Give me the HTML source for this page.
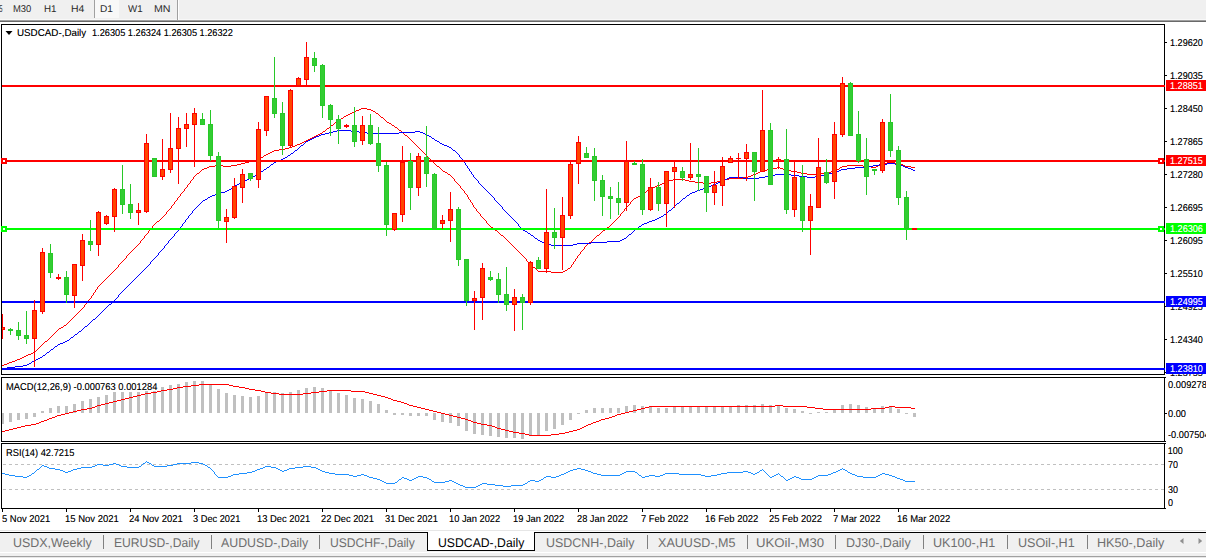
<!DOCTYPE html>
<html><head><meta charset="utf-8"><title>USDCAD Daily</title>
<style>
html,body{margin:0;padding:0;background:#fff;}
html,body{width:1206px;height:558px;overflow:hidden;}
#root{width:1206px;height:558px;overflow:hidden;position:relative;font-family:"Liberation Sans",sans-serif;background:#fff;}
.t{position:absolute;white-space:nowrap;font-family:"Liberation Sans",sans-serif;transform-origin:0 50%;text-rendering:geometricPrecision;}
.lb{position:absolute;left:1166px;width:40px;height:11px;}
#tb{position:absolute;left:0;top:0;width:1206px;height:20px;background:#f0f0f0;}
#tabs{position:absolute;left:0;top:533px;width:1206px;height:19px;background:#f0f0f0;}
svg{position:absolute;left:0;top:0;}
</style></head><body><div id="root">
<div id="tb"></div>
<div id="tabs"></div>
<svg width="1206" height="558" viewBox="0 0 1206 558" shape-rendering="crispEdges">
<rect x="0" y="19" width="1206" height="1" fill="#f8f8f8"/>
<rect x="94" y="0" width="1" height="18" fill="#a0a0a0"/>
<rect x="95" y="0" width="24" height="18" fill="#f8f8f8"/>
<rect x="177" y="0" width="1" height="20" fill="#a0a0a0"/>
<rect x="178" y="0" width="1" height="20" fill="#ffffff"/>
<rect x="0" y="20" width="1206" height="1" fill="#a0a0a0"/>
<rect x="0" y="21" width="1206" height="1" fill="#696969"/>
<rect x="1" y="24" width="1164" height="1" fill="#000"/>
<rect x="1" y="374" width="1164" height="1" fill="#000"/>
<rect x="1" y="24" width="1" height="351" fill="#000"/>
<rect x="1164" y="24" width="1" height="351" fill="#000"/>
<rect x="1" y="377" width="1164" height="1" fill="#000"/>
<rect x="1" y="441" width="1164" height="1" fill="#000"/>
<rect x="1" y="377" width="1" height="65" fill="#000"/>
<rect x="1164" y="377" width="1" height="65" fill="#000"/>
<rect x="1" y="443" width="1164" height="1" fill="#000"/>
<rect x="1" y="508" width="1164" height="1" fill="#000"/>
<rect x="1" y="443" width="1" height="66" fill="#000"/>
<rect x="1164" y="443" width="1" height="66" fill="#000"/>
<rect x="1165" y="377" width="1" height="1" fill="#000"/>
<rect x="1165" y="441" width="1" height="1" fill="#000"/>
<rect x="1165" y="443" width="1" height="1" fill="#000"/>
<rect x="1165" y="508" width="1" height="1" fill="#000"/>
<rect x="1165" y="42" width="2" height="1" fill="#000"/>
<rect x="1165" y="75" width="2" height="1" fill="#000"/>
<rect x="1165" y="108" width="2" height="1" fill="#000"/>
<rect x="1165" y="141" width="2" height="1" fill="#000"/>
<rect x="1165" y="174" width="2" height="1" fill="#000"/>
<rect x="1165" y="207" width="2" height="1" fill="#000"/>
<rect x="1165" y="240" width="2" height="1" fill="#000"/>
<rect x="1165" y="273" width="2" height="1" fill="#000"/>
<rect x="1165" y="306" width="2" height="1" fill="#000"/>
<rect x="1165" y="339" width="2" height="1" fill="#000"/>
<rect x="1165" y="372" width="2" height="1" fill="#000"/>
<rect x="1165" y="413" width="2" height="1" fill="#000"/>
<rect x="2" y="509" width="1" height="3" fill="#000"/>
<rect x="66" y="509" width="1" height="3" fill="#000"/>
<rect x="130" y="509" width="1" height="3" fill="#000"/>
<rect x="194" y="509" width="1" height="3" fill="#000"/>
<rect x="258" y="509" width="1" height="3" fill="#000"/>
<rect x="322" y="509" width="1" height="3" fill="#000"/>
<rect x="386" y="509" width="1" height="3" fill="#000"/>
<rect x="450" y="509" width="1" height="3" fill="#000"/>
<rect x="514" y="509" width="1" height="3" fill="#000"/>
<rect x="578" y="509" width="1" height="3" fill="#000"/>
<rect x="642" y="509" width="1" height="3" fill="#000"/>
<rect x="706" y="509" width="1" height="3" fill="#000"/>
<rect x="770" y="509" width="1" height="3" fill="#000"/>
<rect x="834" y="509" width="1" height="3" fill="#000"/>
<rect x="898" y="509" width="1" height="3" fill="#000"/>
<path d="M5.5 31 L12.5 31 L9 35 Z" fill="#000" shape-rendering="auto"/>
<path d="M12 361h3v1h-3zM729 178h14v1h-14zM215 165h8v1h-8zM231 165h6v1h-6zM847 165h16v1h-16zM878 165h2v1h-2zM903 165h2v1h-2zM443 171h2v1h-2zM760 171h2v1h-2zM791 171h6v1h-6zM831 171h4v1h-4zM308 139h2v1h-2zM538 271h13v1h-13zM563 271h2v1h-2zM652 187h3v1h-3zM743 177h5v1h-5zM551 272h12v1h-12zM673 179h12v1h-12zM725 179h4v1h-4zM495 230h2v1h-2zM603 230h2v1h-2zM202 169h2v1h-2zM767 169h6v1h-6zM783 169h2v1h-2zM837 169h2v1h-2zM249 161h4v1h-4zM354 111h2v1h-2zM373 111h2v1h-2zM314 136h2v1h-2zM335 122h2v1h-2zM387 122h2v1h-2zM209 166h6v1h-6zM223 166h8v1h-8zM437 166h2v1h-2zM842 166h5v1h-5zM863 166h8v1h-8zM876 166h2v1h-2zM905 166h6v1h-6zM664 182h2v1h-2zM695 182h8v1h-8zM711 182h6v1h-6zM261 157h2v1h-2zM657 185h3v1h-3zM448 174h2v1h-2zM753 174h3v1h-3zM807 174h14v1h-14zM350 113h2v1h-2zM376 113h2v1h-2zM666 181h3v1h-3zM689 181h6v1h-6zM717 181h4v1h-4zM207 167h2v1h-2zM777 167h3v1h-3zM840 167h2v1h-2zM871 167h5v1h-5zM911 167h4v1h-4zM300 143h2v1h-2zM318 134h2v1h-2zM589 242h2v1h-2zM157 221h2v1h-2zM445 172h2v1h-2zM758 172h2v1h-2zM797 172h4v1h-4zM825 172h6v1h-6zM320 133h2v1h-2zM28 354h3v1h-3zM7 363h2v1h-2zM643 193h2v1h-2zM491 227h2v1h-2zM607 227h2v1h-2zM295 145h2v1h-2zM568 268h2v1h-2zM669 180h4v1h-4zM685 180h4v1h-4zM721 180h4v1h-4zM274 150h5v1h-5zM304 141h2v1h-2zM762 170h5v1h-5zM785 170h6v1h-6zM835 170h2v1h-2zM565 270h2v1h-2zM302 142h2v1h-2zM310 138h2v1h-2zM241 163h4v1h-4zM882 163h5v1h-5zM895 163h5v1h-5zM341 118h2v1h-2zM389 123h2v1h-2zM257 159h2v1h-2zM237 164h4v1h-4zM880 164h2v1h-2zM900 164h3v1h-3zM346 115h2v1h-2zM279 149h6v1h-6zM640 195h2v1h-2zM352 112h2v1h-2zM361 108h6v1h-6zM245 162h4v1h-4zM887 162h8v1h-8zM748 176h3v1h-3zM634 198h2v1h-2zM289 147h3v1h-3zM356 110h3v1h-3zM371 110h2v1h-2zM64 325h2v1h-2zM306 140h2v1h-2zM15 360h2v1h-2zM61 327h2v1h-2zM662 183h2v1h-2zM703 183h8v1h-8zM655 186h2v1h-2zM9 362h3v1h-3zM197 173h2v1h-2zM756 173h2v1h-2zM801 173h6v1h-6zM821 173h4v1h-4zM348 114h2v1h-2zM638 196h2v1h-2zM339 119h2v1h-2zM285 148h4v1h-4zM26 355h2v1h-2zM327 128h2v1h-2zM636 197h2v1h-2zM268 153h2v1h-2zM259 158h2v1h-2zM501 235h2v1h-2zM597 235h2v1h-2zM533 267h2v1h-2zM297 144h3v1h-3zM344 116h2v1h-2zM312 137h2v1h-2zM399 130h2v1h-2zM204 168h3v1h-3zM773 168h4v1h-4zM780 168h3v1h-3zM316 135h2v1h-2zM405 135h2v1h-2zM45 341h2v1h-2zM253 160h4v1h-4zM22 357h2v1h-2zM395 127h2v1h-2zM270 152h2v1h-2zM17 359h3v1h-3zM359 109h2v1h-2zM367 109h4v1h-4zM2 365h2v1h-2zM292 146h3v1h-3zM331 125h2v1h-2zM392 125h2v1h-2zM751 175h2v1h-2zM33 352h2v1h-2zM59 328h2v1h-2zM272 151h2v1h-2zM323 131h2v1h-2zM650 188h2v1h-2zM24 356h2v1h-2zM381 117h2v1h-2zM266 154h2v1h-2zM660 184h2v1h-2zM4 364h3v1h-3zM20 358h2v1h-2zM31 353h2v1h-2zM647 190h2v1h-2zM264 155h2v1h-2zM177 198h1v2h-1zM70 320h1v1h-1zM90 298h1v1h-1zM470 200h1v2h-1zM494 229h1v1h-1zM473 205h1v2h-1zM184 189h1v2h-1zM63 326h1v1h-1zM169 209h1v1h-1zM524 257h1v1h-1zM172 205h1v1h-1zM106 278h1v1h-1zM126 256h1v2h-1zM506 239h1v1h-1zM326 129h1v1h-1zM578 255h1v1h-1zM613 222h1v1h-1zM97 287h1v2h-1zM480 214h1v2h-1zM624 209h1v2h-1zM144 236h1v2h-1zM164 215h1v1h-1zM43 343h1v1h-1zM402 132h1v1h-1zM454 179h1v2h-1zM414 143h1v1h-1zM192 179h1v1h-1zM47 340h1v1h-1zM403 133h1v1h-1zM586 245h1v1h-1zM161 218h1v1h-1zM465 193h1v1h-1zM109 275h1v1h-1zM129 253h1v1h-1zM152 226h1v2h-1zM584 247h1v2h-1zM421 150h1v1h-1zM469 199h1v1h-1zM330 126h1v1h-1zM413 142h1v1h-1zM620 214h1v2h-1zM50 337h1v1h-1zM334 123h1v1h-1zM600 233h1v1h-1zM428 157h1v1h-1zM338 120h1v1h-1zM121 262h1v1h-1zM141 240h1v1h-1zM199 172h1v1h-1zM593 239h1v1h-1zM490 226h1v1h-1zM420 149h1v1h-1zM101 283h1v1h-1zM77 313h1v1h-1zM383 118h1v1h-1zM180 194h1v2h-1zM464 191h1v2h-1zM628 205h1v1h-1zM116 268h1v1h-1zM136 246h1v1h-1zM435 164h1v1h-1zM505 238h1v1h-1zM468 197h1v2h-1zM93 293h1v2h-1zM175 201h1v1h-1zM623 211h1v1h-1zM74 316h1v1h-1zM581 251h1v1h-1zM427 156h1v1h-1zM398 129h1v1h-1zM439 167h1v1h-1zM527 261h1v1h-1zM113 271h1v1h-1zM57 330h1v1h-1zM512 245h1v1h-1zM104 280h1v1h-1zM483 218h1v1h-1zM183 191h1v1h-1zM457 183h1v1h-1zM54 333h1v1h-1zM615 220h1v1h-1zM519 252h1v1h-1zM572 264h1v1h-1zM472 203h1v2h-1zM159 220h1v1h-1zM38 348h1v1h-1zM482 217h1v1h-1zM397 128h1v1h-1zM81 309h1v1h-1zM526 259h1v2h-1zM378 114h1v1h-1zM140 241h1v2h-1zM379 115h1v1h-1zM131 251h1v1h-1zM500 234h1v1h-1zM69 321h1v1h-1zM434 163h1v1h-1zM631 201h1v1h-1zM171 206h1v2h-1zM108 276h1v1h-1zM84 305h1v2h-1zM394 126h1v1h-1zM128 254h1v1h-1zM580 252h1v2h-1zM467 195h1v2h-1zM148 231h1v2h-1zM151 228h1v1h-1zM96 289h1v1h-1zM408 137h1v1h-1zM325 130h1v1h-1zM626 207h1v1h-1zM166 212h1v2h-1zM471 202h1v1h-1zM123 260h1v1h-1zM143 238h1v1h-1zM329 127h1v1h-1zM575 259h1v2h-1zM595 237h1v1h-1zM423 152h1v1h-1zM49 338h1v1h-1zM599 234h1v1h-1zM194 176h1v1h-1zM588 243h1v1h-1zM415 144h1v1h-1zM163 216h1v1h-1zM174 202h1v2h-1zM571 265h1v2h-1zM76 314h1v1h-1zM583 249h1v1h-1zM92 295h1v1h-1zM404 134h1v1h-1zM115 269h1v1h-1zM135 247h1v1h-1zM385 120h1v1h-1zM466 194h1v1h-1zM474 207h1v1h-1zM602 231h1v1h-1zM375 112h1v1h-1zM507 240h1v1h-1zM645 192h1v1h-1zM606 228h1v1h-1zM440 168h1v1h-1zM201 170h1v1h-1zM146 234h1v1h-1zM56 331h1v1h-1zM508 241h1v1h-1zM649 189h1v1h-1zM79 311h1v1h-1zM441 169h1v1h-1zM610 225h1v1h-1zM630 202h1v2h-1zM138 244h1v1h-1zM182 192h1v1h-1zM40 346h1v1h-1zM95 290h1v2h-1zM118 265h1v2h-1zM515 248h1v1h-1zM154 224h1v1h-1zM67 323h1v1h-1zM422 151h1v1h-1zM149 230h1v1h-1zM103 281h1v1h-1zM633 199h1v1h-1zM528 262h1v1h-1zM185 188h1v1h-1zM429 158h1v1h-1zM529 263h1v1h-1zM513 246h1v1h-1zM514 247h1v1h-1zM384 119h1v1h-1zM574 261h1v1h-1zM577 256h1v2h-1zM83 307h1v1h-1zM436 165h1v1h-1zM193 177h1v2h-1zM625 208h1v1h-1zM520 253h1v1h-1zM165 214h1v1h-1zM477 211h1v1h-1zM133 249h1v1h-1zM594 238h1v1h-1zM521 254h1v1h-1zM35 351h1v1h-1zM410 139h1v1h-1zM110 274h1v1h-1zM617 218h1v1h-1zM71 319h1v1h-1zM411 140h1v1h-1zM91 296h1v2h-1zM484 219h1v1h-1zM130 252h1v1h-1zM173 204h1v1h-1zM570 267h1v1h-1zM458 184h1v1h-1zM51 336h1v1h-1zM86 303h1v1h-1zM89 299h1v1h-1zM98 286h1v1h-1zM839 168h1v1h-1zM125 258h1v1h-1zM168 210h1v1h-1zM122 261h1v1h-1zM601 232h1v1h-1zM476 209h1v2h-1zM196 174h1v1h-1zM409 138h1v1h-1zM450 175h1v1h-1zM188 184h1v1h-1zM78 312h1v1h-1zM191 180h1v1h-1zM380 116h1v1h-1zM156 222h1v1h-1zM451 176h1v1h-1zM573 262h1v2h-1zM137 245h1v1h-1zM160 219h1v1h-1zM416 145h1v1h-1zM487 223h1v1h-1zM417 146h1v1h-1zM612 223h1v1h-1zM66 324h1v1h-1zM461 188h1v1h-1zM605 229h1v1h-1zM200 171h1v1h-1zM145 235h1v1h-1zM475 208h1v1h-1zM333 124h1v1h-1zM535 268h1v1h-1zM424 153h1v1h-1zM632 200h1v1h-1zM42 344h1v1h-1zM117 267h1v1h-1zM120 263h1v1h-1zM486 221h1v2h-1zM592 240h1v1h-1zM39 347h1v1h-1zM509 242h1v1h-1zM176 200h1v1h-1zM179 196h1v1h-1zM442 170h1v1h-1zM498 232h1v1h-1zM585 246h1v1h-1zM431 160h1v1h-1zM391 124h1v1h-1zM58 329h1v1h-1zM432 161h1v1h-1zM619 216h1v1h-1zM105 279h1v1h-1zM73 317h1v1h-1zM516 249h1v1h-1zM386 121h1v1h-1zM187 185h1v2h-1zM132 250h1v1h-1zM337 121h1v1h-1zM616 219h1v1h-1zM523 256h1v1h-1zM322 132h1v1h-1zM497 231h1v1h-1zM430 159h1v1h-1zM85 304h1v1h-1zM627 206h1v1h-1zM530 264h1v1h-1zM460 186h1v2h-1zM596 236h1v1h-1zM37 349h1v1h-1zM531 265h1v1h-1zM112 272h1v1h-1zM190 181h1v2h-1zM80 310h1v1h-1zM622 212h1v1h-1zM139 243h1v1h-1zM478 212h1v1h-1zM53 334h1v1h-1zM88 300h1v2h-1zM479 213h1v1h-1zM100 284h1v1h-1zM68 322h1v1h-1zM452 177h1v1h-1zM412 141h1v1h-1zM170 208h1v1h-1zM485 220h1v1h-1zM124 259h1v1h-1zM642 194h1v1h-1zM127 255h1v1h-1zM576 258h1v1h-1zM453 178h1v1h-1zM147 233h1v1h-1zM611 224h1v1h-1zM459 185h1v1h-1zM646 191h1v1h-1zM195 175h1v1h-1zM44 342h1v1h-1zM419 148h1v1h-1zM522 255h1v1h-1zM493 228h1v1h-1zM587 244h1v1h-1zM504 237h1v1h-1zM537 270h1v1h-1zM107 277h1v1h-1zM579 254h1v1h-1zM614 221h1v1h-1zM582 250h1v1h-1zM511 244h1v1h-1zM401 131h1v1h-1zM167 211h1v1h-1zM343 117h1v1h-1zM48 339h1v1h-1zM503 236h1v1h-1zM142 239h1v1h-1zM536 269h1v1h-1zM162 217h1v1h-1zM41 345h1v1h-1zM119 264h1v1h-1zM591 241h1v1h-1zM263 156h1v1h-1zM629 204h1v1h-1zM155 223h1v1h-1zM178 197h1v1h-1zM481 216h1v1h-1zM94 292h1v1h-1zM114 270h1v1h-1zM426 155h1v1h-1zM75 315h1v1h-1zM150 229h1v1h-1zM153 225h1v1h-1zM488 224h1v1h-1zM72 318h1v1h-1zM418 147h1v1h-1zM499 233h1v1h-1zM134 248h1v1h-1zM456 182h1v1h-1zM489 225h1v1h-1zM111 273h1v1h-1zM186 187h1v1h-1zM189 183h1v1h-1zM532 266h1v1h-1zM618 217h1v1h-1zM55 332h1v1h-1zM462 189h1v1h-1zM433 162h1v1h-1zM102 282h1v1h-1zM609 226h1v1h-1zM463 190h1v1h-1zM447 173h1v1h-1zM181 193h1v1h-1zM425 154h1v1h-1zM518 251h1v1h-1zM407 136h1v1h-1zM52 335h1v1h-1zM87 302h1v1h-1zM99 285h1v1h-1zM510 243h1v1h-1zM82 308h1v1h-1zM36 350h1v1h-1zM525 258h1v1h-1zM455 181h1v1h-1zM621 213h1v1h-1zM567 269h1v1h-1zM517 250h1v1h-1z" fill="#ff0000"/>
<path d="M528 233h2v1h-2zM256 174h2v1h-2zM775 174h16v1h-16zM825 174h4v1h-4zM65 341h2v1h-2zM261 171h2v1h-2zM836 171h3v1h-3zM221 192h4v1h-4zM692 192h3v1h-3zM677 203h2v1h-2zM251 177h2v1h-2zM729 177h14v1h-14zM759 177h6v1h-6zM807 177h8v1h-8zM887 163h8v1h-8zM210 196h2v1h-2zM329 132h4v1h-4zM359 132h8v1h-8zM399 132h16v1h-16zM420 132h3v1h-3zM253 176h2v1h-2zM765 176h4v1h-4zM799 176h8v1h-8zM815 176h6v1h-6zM247 179h2v1h-2zM724 179h3v1h-3zM659 217h2v1h-2zM325 133h4v1h-4zM367 133h32v1h-32zM423 133h2v1h-2zM542 242h2v1h-2zM591 242h16v1h-16zM551 245h22v1h-22zM271 164h2v1h-2zM879 164h8v1h-8zM895 164h5v1h-5zM291 153h2v1h-2zM215 194h2v1h-2zM288 155h2v1h-2zM259 172h2v1h-2zM833 172h3v1h-3zM225 191h2v1h-2zM695 191h2v1h-2zM869 166h4v1h-4zM903 166h2v1h-2zM708 186h3v1h-3zM295 150h2v1h-2zM453 150h2v1h-2zM544 243h2v1h-2zM577 243h14v1h-14zM337 130h14v1h-14zM769 175h6v1h-6zM791 175h8v1h-8zM821 175h4v1h-4zM23 365h4v1h-4zM314 137h2v1h-2zM32 361h2v1h-2zM312 138h2v1h-2zM432 138h2v1h-2zM839 170h2v1h-2zM913 170h2v1h-2zM540 241h2v1h-2zM607 241h13v1h-13zM546 244h5v1h-5zM573 244h4v1h-4zM333 131h4v1h-4zM351 131h8v1h-8zM415 131h5v1h-5zM208 197h2v1h-2zM319 135h2v1h-2zM427 135h2v1h-2zM29 363h2v1h-2zM60 343h3v1h-3zM644 223h3v1h-3zM249 178h2v1h-2zM727 178h2v1h-2zM743 178h16v1h-16zM873 165h6v1h-6zM900 165h3v1h-3zM85 326h2v1h-2zM316 136h3v1h-3zM429 136h2v1h-2zM622 239h2v1h-2zM242 181h2v1h-2zM720 181h2v1h-2zM655 219h2v1h-2zM279 160h2v1h-2zM267 167h2v1h-2zM855 167h14v1h-14zM905 167h3v1h-3zM276 161h3v1h-3zM15 366h8v1h-8zM449 147h2v1h-2zM321 134h4v1h-4zM425 134h2v1h-2zM7 367h8v1h-8zM310 139h2v1h-2zM442 144h2v1h-2zM244 180h3v1h-3zM722 180h2v1h-2zM38 358h2v1h-2zM703 188h2v1h-2zM264 169h2v1h-2zM841 169h6v1h-6zM911 169h2v1h-2zM538 240h2v1h-2zM620 240h2v1h-2zM716 183h2v1h-2zM523 230h2v1h-2zM283 158h2v1h-2zM75 334h2v1h-2zM229 189h2v1h-2zM700 189h3v1h-3zM281 159h2v1h-2zM212 195h3v1h-3zM687 195h2v1h-2zM657 218h2v1h-2zM274 162h2v1h-2zM2 368h5v1h-5zM535 238h2v1h-2zM624 238h2v1h-2zM847 168h8v1h-8zM908 168h3v1h-3zM669 210h2v1h-2zM79 331h2v1h-2zM829 173h4v1h-4zM652 220h3v1h-3zM217 193h4v1h-4zM690 193h2v1h-2zM661 216h2v1h-2zM34 360h2v1h-2zM285 157h2v1h-2zM232 187h2v1h-2zM705 187h3v1h-3zM642 224h2v1h-2zM51 349h2v1h-2zM55 346h2v1h-2zM205 199h2v1h-2zM683 198h2v1h-2zM308 140h2v1h-2zM435 140h2v1h-2zM629 234h2v1h-2zM531 235h2v1h-2zM525 231h2v1h-2zM240 182h2v1h-2zM718 182h2v1h-2zM40 357h2v1h-2zM649 221h3v1h-3zM227 190h2v1h-2zM697 190h3v1h-3zM301 145h2v1h-2zM444 145h3v1h-3zM306 141h2v1h-2zM437 141h2v1h-2zM664 214h2v1h-2zM237 184h2v1h-2zM713 184h3v1h-3zM235 185h2v1h-2zM711 185h2v1h-2zM635 229h2v1h-2zM43 355h2v1h-2zM67 340h2v1h-2zM47 352h2v1h-2zM203 200h2v1h-2zM58 344h2v1h-2zM93 319h2v1h-2zM440 143h2v1h-2zM647 222h2v1h-2zM109 304h2v1h-2zM447 146h2v1h-2zM27 364h2v1h-2zM36 359h2v1h-2zM639 226h2v1h-2zM71 337h2v1h-2zM63 342h2v1h-2zM146 267h1v1h-1zM270 165h1v1h-1zM168 241h1v2h-1zM494 198h1v2h-1zM679 202h1v1h-1zM458 154h1v1h-1zM193 210h1v1h-1zM136 277h1v1h-1zM105 308h1v1h-1zM668 211h1v1h-1zM467 166h1v2h-1zM144 269h1v1h-1zM143 270h1v1h-1zM118 295h1v2h-1zM164 246h1v2h-1zM273 163h1v1h-1zM145 268h1v1h-1zM70 338h1v1h-1zM472 174h1v1h-1zM103 310h1v1h-1zM666 213h1v1h-1zM182 224h1v2h-1zM671 209h1v1h-1zM83 328h1v1h-1zM672 208h1v1h-1zM530 234h1v1h-1zM506 212h1v1h-1zM192 211h1v2h-1zM290 154h1v1h-1zM178 230h1v1h-1zM459 155h1v2h-1zM179 228h1v2h-1zM481 185h1v1h-1zM507 213h1v1h-1zM188 216h1v2h-1zM133 280h1v1h-1zM134 279h1v1h-1zM455 151h1v1h-1zM174 234h1v2h-1zM294 151h1v1h-1zM177 231h1v1h-1zM503 209h1v1h-1zM124 289h1v1h-1zM131 282h1v1h-1zM132 281h1v1h-1zM631 233h1v1h-1zM518 224h1v2h-1zM150 262h1v2h-1zM158 253h1v2h-1zM173 236h1v1h-1zM293 152h1v1h-1zM519 226h1v1h-1zM498 203h1v1h-1zM122 291h1v1h-1zM99 314h1v1h-1zM469 169h1v2h-1zM156 256h1v1h-1zM478 181h1v2h-1zM31 362h1v1h-1zM504 210h1v1h-1zM483 187h1v1h-1zM685 197h1v1h-1zM97 316h1v1h-1zM470 171h1v1h-1zM121 292h1v1h-1zM42 356h1v1h-1zM479 183h1v1h-1zM527 232h1v1h-1zM473 175h1v2h-1zM505 211h1v1h-1zM239 183h1v1h-1zM520 227h1v1h-1zM499 204h1v1h-1zM689 194h1v1h-1zM185 220h1v2h-1zM117 297h1v1h-1zM119 294h1v1h-1zM120 293h1v1h-1zM69 339h1v1h-1zM74 335h1v1h-1zM495 200h1v1h-1zM201 202h1v1h-1zM521 228h1v1h-1zM181 226h1v1h-1zM462 159h1v2h-1zM116 298h1v1h-1zM471 172h1v2h-1zM89 323h1v1h-1zM496 201h1v1h-1zM199 204h1v1h-1zM511 217h1v1h-1zM480 184h1v1h-1zM490 194h1v1h-1zM73 336h1v1h-1zM163 248h1v1h-1zM165 245h1v1h-1zM142 271h1v1h-1zM162 249h1v1h-1zM452 149h1v1h-1zM263 170h1v1h-1zM463 161h1v1h-1zM115 299h1v1h-1zM114 300h1v1h-1zM486 190h1v1h-1zM197 206h1v1h-1zM140 273h1v1h-1zM512 218h1v1h-1zM198 205h1v1h-1zM475 178h1v1h-1zM161 250h1v1h-1zM299 147h1v1h-1zM482 186h1v1h-1zM300 146h1v1h-1zM305 142h1v1h-1zM508 214h1v1h-1zM100 313h1v1h-1zM502 207h1v2h-1zM139 274h1v1h-1zM107 306h1v1h-1zM108 305h1v1h-1zM497 202h1v1h-1zM157 255h1v1h-1zM160 251h1v1h-1zM298 148h1v1h-1zM303 144h1v1h-1zM477 180h1v1h-1zM464 162h1v1h-1zM175 233h1v1h-1zM98 315h1v1h-1zM487 191h1v1h-1zM106 307h1v1h-1zM513 219h1v1h-1zM465 163h1v2h-1zM130 283h1v1h-1zM434 139h1v1h-1zM231 188h1v1h-1zM171 238h1v1h-1zM509 215h1v1h-1zM488 192h1v1h-1zM91 321h1v1h-1zM46 353h1v1h-1zM92 320h1v1h-1zM128 285h1v1h-1zM167 243h1v1h-1zM484 188h1v1h-1zM170 239h1v1h-1zM169 240h1v1h-1zM533 236h1v1h-1zM510 216h1v1h-1zM515 221h1v1h-1zM126 287h1v1h-1zM451 148h1v1h-1zM127 286h1v1h-1zM200 203h1v1h-1zM50 350h1v1h-1zM474 177h1v1h-1zM187 218h1v1h-1zM628 235h1v1h-1zM633 231h1v1h-1zM166 244h1v1h-1zM634 230h1v1h-1zM153 259h1v1h-1zM500 205h1v1h-1zM534 237h1v1h-1zM183 223h1v1h-1zM141 272h1v1h-1zM184 222h1v1h-1zM49 351h1v1h-1zM78 332h1v1h-1zM461 158h1v1h-1zM151 261h1v1h-1zM632 232h1v1h-1zM485 189h1v1h-1zM501 206h1v1h-1zM522 229h1v1h-1zM516 222h1v1h-1zM90 322h1v1h-1zM149 264h1v1h-1zM627 236h1v1h-1zM682 199h1v1h-1zM180 227h1v1h-1zM255 175h1v1h-1zM147 266h1v1h-1zM491 195h1v1h-1zM82 329h1v1h-1zM81 330h1v1h-1zM138 275h1v1h-1zM517 223h1v1h-1zM304 143h1v1h-1zM266 168h1v1h-1zM439 142h1v1h-1zM176 232h1v1h-1zM686 196h1v1h-1zM258 173h1v1h-1zM112 302h1v1h-1zM675 205h1v1h-1zM476 179h1v1h-1zM113 301h1v1h-1zM196 207h1v1h-1zM159 252h1v1h-1zM431 137h1v1h-1zM297 149h1v1h-1zM673 207h1v1h-1zM111 303h1v1h-1zM674 206h1v1h-1zM129 284h1v1h-1zM492 196h1v1h-1zM194 209h1v1h-1zM663 215h1v1h-1zM155 257h1v1h-1zM137 276h1v1h-1zM269 166h1v1h-1zM468 168h1v1h-1zM514 220h1v1h-1zM287 156h1v1h-1zM493 197h1v1h-1zM96 317h1v1h-1zM190 214h1v1h-1zM191 213h1v1h-1zM135 278h1v1h-1zM667 212h1v1h-1zM154 258h1v1h-1zM104 309h1v1h-1zM489 193h1v1h-1zM460 157h1v1h-1zM45 354h1v1h-1zM186 219h1v1h-1zM95 318h1v1h-1zM189 215h1v1h-1zM102 311h1v1h-1zM77 333h1v1h-1zM638 227h1v1h-1zM537 239h1v1h-1zM84 327h1v1h-1zM152 260h1v1h-1zM234 186h1v1h-1zM148 265h1v1h-1zM54 347h1v1h-1zM53 348h1v1h-1zM456 152h1v1h-1zM101 312h1v1h-1zM637 228h1v1h-1zM88 324h1v1h-1zM125 288h1v1h-1zM626 237h1v1h-1zM676 204h1v1h-1zM207 198h1v1h-1zM681 200h1v1h-1zM57 345h1v1h-1zM87 325h1v1h-1zM123 290h1v1h-1zM641 225h1v1h-1zM172 237h1v1h-1zM680 201h1v1h-1zM457 153h1v1h-1zM195 208h1v1h-1zM466 165h1v1h-1zM202 201h1v1h-1z" fill="#0000ff"/>
<rect x="2" y="85" width="1163" height="2" fill="#ff0000"/>
<rect x="2" y="160" width="1163" height="2" fill="#ff0000"/>
<rect x="2" y="228" width="1163" height="2" fill="#00ff00"/>
<rect x="2" y="301" width="1163" height="2" fill="#0000ff"/>
<rect x="2" y="368" width="1163" height="2" fill="#0000ff"/>
<rect x="2" y="314" width="1" height="25" fill="#ff0000"/>
<rect x="2" y="327" width="3" height="3" fill="#ff0000"/>
<rect x="2" y="328" width="2" height="1" fill="#ff4500"/>
<rect x="10" y="328" width="1" height="7" fill="#28c828"/>
<rect x="8" y="329" width="5" height="2" fill="#28c828"/>
<rect x="18" y="322" width="1" height="18" fill="#28c828"/>
<rect x="16" y="330" width="5" height="6" fill="#28c828"/>
<rect x="17" y="331" width="3" height="4" fill="#32cd32"/>
<rect x="26" y="311" width="1" height="33" fill="#28c828"/>
<rect x="24" y="335" width="5" height="4" fill="#28c828"/>
<rect x="25" y="336" width="3" height="2" fill="#32cd32"/>
<rect x="34" y="300" width="1" height="67" fill="#ff0000"/>
<rect x="32" y="310" width="5" height="29" fill="#ff0000"/>
<rect x="33" y="311" width="3" height="27" fill="#ff4500"/>
<rect x="42" y="248" width="1" height="66" fill="#ff0000"/>
<rect x="40" y="252" width="5" height="60" fill="#ff0000"/>
<rect x="41" y="253" width="3" height="58" fill="#ff4500"/>
<rect x="50" y="244" width="1" height="34" fill="#28c828"/>
<rect x="48" y="253" width="5" height="20" fill="#28c828"/>
<rect x="49" y="254" width="3" height="18" fill="#32cd32"/>
<rect x="58" y="274" width="1" height="6" fill="#ff0000"/>
<rect x="56" y="277" width="5" height="2" fill="#ff0000"/>
<rect x="66" y="271" width="1" height="32" fill="#28c828"/>
<rect x="64" y="277" width="5" height="18" fill="#28c828"/>
<rect x="65" y="278" width="3" height="16" fill="#32cd32"/>
<rect x="74" y="264" width="1" height="44" fill="#ff0000"/>
<rect x="72" y="264" width="5" height="32" fill="#ff0000"/>
<rect x="73" y="265" width="3" height="30" fill="#ff4500"/>
<rect x="82" y="234" width="1" height="47" fill="#ff0000"/>
<rect x="80" y="240" width="5" height="26" fill="#ff0000"/>
<rect x="81" y="241" width="3" height="24" fill="#ff4500"/>
<rect x="90" y="220" width="1" height="31" fill="#28c828"/>
<rect x="88" y="241" width="5" height="4" fill="#28c828"/>
<rect x="89" y="242" width="3" height="2" fill="#32cd32"/>
<rect x="98" y="211" width="1" height="45" fill="#ff0000"/>
<rect x="96" y="212" width="5" height="33" fill="#ff0000"/>
<rect x="97" y="213" width="3" height="31" fill="#ff4500"/>
<rect x="106" y="215" width="1" height="10" fill="#ff0000"/>
<rect x="104" y="216" width="5" height="8" fill="#ff0000"/>
<rect x="105" y="217" width="3" height="6" fill="#ff4500"/>
<rect x="114" y="188" width="1" height="44" fill="#ff0000"/>
<rect x="112" y="189" width="5" height="28" fill="#ff0000"/>
<rect x="113" y="190" width="3" height="26" fill="#ff4500"/>
<rect x="122" y="165" width="1" height="49" fill="#28c828"/>
<rect x="120" y="189" width="5" height="16" fill="#28c828"/>
<rect x="121" y="190" width="3" height="14" fill="#32cd32"/>
<rect x="130" y="184" width="1" height="35" fill="#28c828"/>
<rect x="128" y="204" width="5" height="9" fill="#28c828"/>
<rect x="129" y="205" width="3" height="7" fill="#32cd32"/>
<rect x="138" y="203" width="1" height="22" fill="#ff0000"/>
<rect x="136" y="210" width="5" height="3" fill="#ff0000"/>
<rect x="137" y="211" width="3" height="1" fill="#ff4500"/>
<rect x="146" y="134" width="1" height="79" fill="#ff0000"/>
<rect x="144" y="143" width="5" height="69" fill="#ff0000"/>
<rect x="145" y="144" width="3" height="67" fill="#ff4500"/>
<rect x="154" y="158" width="1" height="19" fill="#28c828"/>
<rect x="152" y="158" width="5" height="19" fill="#28c828"/>
<rect x="153" y="159" width="3" height="17" fill="#32cd32"/>
<rect x="162" y="139" width="1" height="41" fill="#ff0000"/>
<rect x="160" y="169" width="5" height="8" fill="#ff0000"/>
<rect x="161" y="170" width="3" height="6" fill="#ff4500"/>
<rect x="170" y="113" width="1" height="60" fill="#ff0000"/>
<rect x="168" y="148" width="5" height="22" fill="#ff0000"/>
<rect x="169" y="149" width="3" height="20" fill="#ff4500"/>
<rect x="178" y="117" width="1" height="67" fill="#ff0000"/>
<rect x="176" y="128" width="5" height="21" fill="#ff0000"/>
<rect x="177" y="129" width="3" height="19" fill="#ff4500"/>
<rect x="186" y="113" width="1" height="34" fill="#ff0000"/>
<rect x="184" y="124" width="5" height="5" fill="#ff0000"/>
<rect x="185" y="125" width="3" height="3" fill="#ff4500"/>
<rect x="194" y="108" width="1" height="59" fill="#ff0000"/>
<rect x="192" y="113" width="5" height="12" fill="#ff0000"/>
<rect x="193" y="114" width="3" height="10" fill="#ff4500"/>
<rect x="202" y="113" width="1" height="12" fill="#28c828"/>
<rect x="200" y="119" width="5" height="6" fill="#28c828"/>
<rect x="201" y="120" width="3" height="4" fill="#32cd32"/>
<rect x="210" y="110" width="1" height="51" fill="#28c828"/>
<rect x="208" y="124" width="5" height="32" fill="#28c828"/>
<rect x="209" y="125" width="3" height="30" fill="#32cd32"/>
<rect x="218" y="152" width="1" height="77" fill="#28c828"/>
<rect x="216" y="156" width="5" height="65" fill="#28c828"/>
<rect x="217" y="157" width="3" height="63" fill="#32cd32"/>
<rect x="226" y="209" width="1" height="34" fill="#ff0000"/>
<rect x="224" y="217" width="5" height="5" fill="#ff0000"/>
<rect x="225" y="218" width="3" height="3" fill="#ff4500"/>
<rect x="234" y="178" width="1" height="41" fill="#ff0000"/>
<rect x="232" y="186" width="5" height="32" fill="#ff0000"/>
<rect x="233" y="187" width="3" height="30" fill="#ff4500"/>
<rect x="242" y="169" width="1" height="34" fill="#ff0000"/>
<rect x="240" y="174" width="5" height="14" fill="#ff0000"/>
<rect x="241" y="175" width="3" height="12" fill="#ff4500"/>
<rect x="250" y="173" width="1" height="8" fill="#28c828"/>
<rect x="248" y="173" width="5" height="6" fill="#28c828"/>
<rect x="249" y="174" width="3" height="4" fill="#32cd32"/>
<rect x="258" y="122" width="1" height="66" fill="#ff0000"/>
<rect x="256" y="129" width="5" height="51" fill="#ff0000"/>
<rect x="257" y="130" width="3" height="49" fill="#ff4500"/>
<rect x="266" y="96" width="1" height="40" fill="#ff0000"/>
<rect x="264" y="96" width="5" height="35" fill="#ff0000"/>
<rect x="265" y="97" width="3" height="33" fill="#ff4500"/>
<rect x="274" y="57" width="1" height="61" fill="#28c828"/>
<rect x="272" y="98" width="5" height="16" fill="#28c828"/>
<rect x="273" y="99" width="3" height="14" fill="#32cd32"/>
<rect x="282" y="102" width="1" height="53" fill="#28c828"/>
<rect x="280" y="113" width="5" height="33" fill="#28c828"/>
<rect x="281" y="114" width="3" height="31" fill="#32cd32"/>
<rect x="290" y="89" width="1" height="58" fill="#ff0000"/>
<rect x="288" y="90" width="5" height="56" fill="#ff0000"/>
<rect x="289" y="91" width="3" height="54" fill="#ff4500"/>
<rect x="298" y="77" width="1" height="9" fill="#ff0000"/>
<rect x="296" y="78" width="5" height="8" fill="#ff0000"/>
<rect x="297" y="79" width="3" height="6" fill="#ff4500"/>
<rect x="306" y="42" width="1" height="43" fill="#ff0000"/>
<rect x="304" y="57" width="5" height="23" fill="#ff0000"/>
<rect x="305" y="58" width="3" height="21" fill="#ff4500"/>
<rect x="314" y="52" width="1" height="20" fill="#28c828"/>
<rect x="312" y="58" width="5" height="8" fill="#28c828"/>
<rect x="313" y="59" width="3" height="6" fill="#32cd32"/>
<rect x="322" y="64" width="1" height="54" fill="#28c828"/>
<rect x="320" y="65" width="5" height="41" fill="#28c828"/>
<rect x="321" y="66" width="3" height="39" fill="#32cd32"/>
<rect x="330" y="104" width="1" height="32" fill="#28c828"/>
<rect x="328" y="105" width="5" height="15" fill="#28c828"/>
<rect x="329" y="106" width="3" height="13" fill="#32cd32"/>
<rect x="338" y="115" width="1" height="29" fill="#28c828"/>
<rect x="336" y="119" width="5" height="10" fill="#28c828"/>
<rect x="337" y="120" width="3" height="8" fill="#32cd32"/>
<rect x="346" y="124" width="1" height="4" fill="#ff0000"/>
<rect x="344" y="125" width="5" height="2" fill="#ff0000"/>
<rect x="354" y="107" width="1" height="40" fill="#28c828"/>
<rect x="352" y="125" width="5" height="17" fill="#28c828"/>
<rect x="353" y="126" width="3" height="15" fill="#32cd32"/>
<rect x="362" y="116" width="1" height="29" fill="#ff0000"/>
<rect x="360" y="125" width="5" height="16" fill="#ff0000"/>
<rect x="361" y="126" width="3" height="14" fill="#ff4500"/>
<rect x="370" y="114" width="1" height="31" fill="#28c828"/>
<rect x="368" y="125" width="5" height="19" fill="#28c828"/>
<rect x="369" y="126" width="3" height="17" fill="#32cd32"/>
<rect x="378" y="127" width="1" height="45" fill="#28c828"/>
<rect x="376" y="143" width="5" height="23" fill="#28c828"/>
<rect x="377" y="144" width="3" height="21" fill="#32cd32"/>
<rect x="386" y="162" width="1" height="74" fill="#28c828"/>
<rect x="384" y="165" width="5" height="60" fill="#28c828"/>
<rect x="385" y="166" width="3" height="58" fill="#32cd32"/>
<rect x="394" y="213" width="1" height="18" fill="#ff0000"/>
<rect x="392" y="213" width="5" height="17" fill="#ff0000"/>
<rect x="393" y="214" width="3" height="15" fill="#ff4500"/>
<rect x="402" y="146" width="1" height="76" fill="#ff0000"/>
<rect x="400" y="162" width="5" height="53" fill="#ff0000"/>
<rect x="401" y="163" width="3" height="51" fill="#ff4500"/>
<rect x="410" y="153" width="1" height="57" fill="#28c828"/>
<rect x="408" y="161" width="5" height="27" fill="#28c828"/>
<rect x="409" y="162" width="3" height="25" fill="#32cd32"/>
<rect x="418" y="153" width="1" height="43" fill="#ff0000"/>
<rect x="416" y="156" width="5" height="32" fill="#ff0000"/>
<rect x="417" y="157" width="3" height="30" fill="#ff4500"/>
<rect x="426" y="126" width="1" height="61" fill="#28c828"/>
<rect x="424" y="157" width="5" height="17" fill="#28c828"/>
<rect x="425" y="158" width="3" height="15" fill="#32cd32"/>
<rect x="434" y="173" width="1" height="56" fill="#28c828"/>
<rect x="432" y="174" width="5" height="55" fill="#28c828"/>
<rect x="433" y="175" width="3" height="53" fill="#32cd32"/>
<rect x="442" y="215" width="1" height="14" fill="#ff0000"/>
<rect x="440" y="220" width="5" height="4" fill="#ff0000"/>
<rect x="441" y="221" width="3" height="2" fill="#ff4500"/>
<rect x="450" y="192" width="1" height="50" fill="#ff0000"/>
<rect x="448" y="209" width="5" height="12" fill="#ff0000"/>
<rect x="449" y="210" width="3" height="10" fill="#ff4500"/>
<rect x="458" y="207" width="1" height="59" fill="#28c828"/>
<rect x="456" y="209" width="5" height="51" fill="#28c828"/>
<rect x="457" y="210" width="3" height="49" fill="#32cd32"/>
<rect x="466" y="259" width="1" height="47" fill="#28c828"/>
<rect x="464" y="259" width="5" height="42" fill="#28c828"/>
<rect x="465" y="260" width="3" height="40" fill="#32cd32"/>
<rect x="474" y="291" width="1" height="39" fill="#ff0000"/>
<rect x="472" y="298" width="5" height="3" fill="#ff0000"/>
<rect x="473" y="299" width="3" height="1" fill="#ff4500"/>
<rect x="482" y="263" width="1" height="57" fill="#ff0000"/>
<rect x="480" y="268" width="5" height="30" fill="#ff0000"/>
<rect x="481" y="269" width="3" height="28" fill="#ff4500"/>
<rect x="490" y="271" width="1" height="10" fill="#28c828"/>
<rect x="488" y="277" width="5" height="3" fill="#28c828"/>
<rect x="489" y="278" width="3" height="1" fill="#32cd32"/>
<rect x="498" y="273" width="1" height="30" fill="#28c828"/>
<rect x="496" y="279" width="5" height="16" fill="#28c828"/>
<rect x="497" y="280" width="3" height="14" fill="#32cd32"/>
<rect x="506" y="267" width="1" height="44" fill="#28c828"/>
<rect x="504" y="294" width="5" height="11" fill="#28c828"/>
<rect x="505" y="295" width="3" height="9" fill="#32cd32"/>
<rect x="514" y="289" width="1" height="42" fill="#ff0000"/>
<rect x="512" y="297" width="5" height="8" fill="#ff0000"/>
<rect x="513" y="298" width="3" height="6" fill="#ff4500"/>
<rect x="522" y="294" width="1" height="36" fill="#28c828"/>
<rect x="520" y="297" width="5" height="6" fill="#28c828"/>
<rect x="521" y="298" width="3" height="4" fill="#32cd32"/>
<rect x="530" y="261" width="1" height="44" fill="#ff0000"/>
<rect x="528" y="262" width="5" height="41" fill="#ff0000"/>
<rect x="529" y="263" width="3" height="39" fill="#ff4500"/>
<rect x="538" y="257" width="1" height="12" fill="#28c828"/>
<rect x="536" y="260" width="5" height="9" fill="#28c828"/>
<rect x="537" y="261" width="3" height="7" fill="#32cd32"/>
<rect x="546" y="189" width="1" height="84" fill="#ff0000"/>
<rect x="544" y="232" width="5" height="37" fill="#ff0000"/>
<rect x="545" y="233" width="3" height="35" fill="#ff4500"/>
<rect x="554" y="208" width="1" height="41" fill="#28c828"/>
<rect x="552" y="232" width="5" height="6" fill="#28c828"/>
<rect x="553" y="233" width="3" height="4" fill="#32cd32"/>
<rect x="562" y="197" width="1" height="73" fill="#ff0000"/>
<rect x="560" y="215" width="5" height="23" fill="#ff0000"/>
<rect x="561" y="216" width="3" height="21" fill="#ff4500"/>
<rect x="570" y="162" width="1" height="57" fill="#ff0000"/>
<rect x="568" y="164" width="5" height="52" fill="#ff0000"/>
<rect x="569" y="165" width="3" height="50" fill="#ff4500"/>
<rect x="578" y="136" width="1" height="48" fill="#ff0000"/>
<rect x="576" y="142" width="5" height="22" fill="#ff0000"/>
<rect x="577" y="143" width="3" height="20" fill="#ff4500"/>
<rect x="586" y="147" width="1" height="11" fill="#28c828"/>
<rect x="584" y="153" width="5" height="5" fill="#28c828"/>
<rect x="585" y="154" width="3" height="3" fill="#32cd32"/>
<rect x="594" y="148" width="1" height="53" fill="#28c828"/>
<rect x="592" y="156" width="5" height="25" fill="#28c828"/>
<rect x="593" y="157" width="3" height="23" fill="#32cd32"/>
<rect x="602" y="175" width="1" height="41" fill="#28c828"/>
<rect x="600" y="180" width="5" height="17" fill="#28c828"/>
<rect x="601" y="181" width="3" height="15" fill="#32cd32"/>
<rect x="610" y="187" width="1" height="32" fill="#28c828"/>
<rect x="608" y="196" width="5" height="3" fill="#28c828"/>
<rect x="609" y="197" width="3" height="1" fill="#32cd32"/>
<rect x="618" y="182" width="1" height="33" fill="#28c828"/>
<rect x="616" y="198" width="5" height="5" fill="#28c828"/>
<rect x="617" y="199" width="3" height="3" fill="#32cd32"/>
<rect x="626" y="141" width="1" height="70" fill="#ff0000"/>
<rect x="624" y="161" width="5" height="42" fill="#ff0000"/>
<rect x="625" y="162" width="3" height="40" fill="#ff4500"/>
<rect x="634" y="161" width="1" height="4" fill="#28c828"/>
<rect x="632" y="163" width="5" height="2" fill="#28c828"/>
<rect x="642" y="159" width="1" height="56" fill="#28c828"/>
<rect x="640" y="164" width="5" height="46" fill="#28c828"/>
<rect x="641" y="165" width="3" height="44" fill="#32cd32"/>
<rect x="650" y="178" width="1" height="33" fill="#ff0000"/>
<rect x="648" y="187" width="5" height="23" fill="#ff0000"/>
<rect x="649" y="188" width="3" height="21" fill="#ff4500"/>
<rect x="658" y="182" width="1" height="29" fill="#28c828"/>
<rect x="656" y="187" width="5" height="17" fill="#28c828"/>
<rect x="657" y="188" width="3" height="15" fill="#32cd32"/>
<rect x="666" y="171" width="1" height="56" fill="#ff0000"/>
<rect x="664" y="171" width="5" height="33" fill="#ff0000"/>
<rect x="665" y="172" width="3" height="31" fill="#ff4500"/>
<rect x="674" y="161" width="1" height="47" fill="#ff0000"/>
<rect x="672" y="167" width="5" height="5" fill="#ff0000"/>
<rect x="673" y="168" width="3" height="3" fill="#ff4500"/>
<rect x="682" y="167" width="1" height="14" fill="#28c828"/>
<rect x="680" y="171" width="5" height="7" fill="#28c828"/>
<rect x="681" y="172" width="3" height="5" fill="#32cd32"/>
<rect x="690" y="143" width="1" height="37" fill="#ff0000"/>
<rect x="688" y="174" width="5" height="4" fill="#ff0000"/>
<rect x="689" y="175" width="3" height="2" fill="#ff4500"/>
<rect x="698" y="148" width="1" height="43" fill="#28c828"/>
<rect x="696" y="174" width="5" height="3" fill="#28c828"/>
<rect x="697" y="175" width="3" height="1" fill="#32cd32"/>
<rect x="706" y="176" width="1" height="36" fill="#28c828"/>
<rect x="704" y="176" width="5" height="17" fill="#28c828"/>
<rect x="705" y="177" width="3" height="15" fill="#32cd32"/>
<rect x="714" y="171" width="1" height="34" fill="#ff0000"/>
<rect x="712" y="185" width="5" height="8" fill="#ff0000"/>
<rect x="713" y="186" width="3" height="6" fill="#ff4500"/>
<rect x="722" y="157" width="1" height="49" fill="#ff0000"/>
<rect x="720" y="166" width="5" height="20" fill="#ff0000"/>
<rect x="721" y="167" width="3" height="18" fill="#ff4500"/>
<rect x="730" y="156" width="1" height="7" fill="#ff0000"/>
<rect x="728" y="158" width="5" height="5" fill="#ff0000"/>
<rect x="729" y="159" width="3" height="3" fill="#ff4500"/>
<rect x="738" y="153" width="1" height="26" fill="#ff0000"/>
<rect x="736" y="158" width="5" height="1" fill="#ff0000"/>
<rect x="746" y="144" width="1" height="37" fill="#ff0000"/>
<rect x="744" y="152" width="5" height="7" fill="#ff0000"/>
<rect x="745" y="153" width="3" height="5" fill="#ff4500"/>
<rect x="754" y="152" width="1" height="49" fill="#28c828"/>
<rect x="752" y="152" width="5" height="20" fill="#28c828"/>
<rect x="753" y="153" width="3" height="18" fill="#32cd32"/>
<rect x="762" y="90" width="1" height="82" fill="#ff0000"/>
<rect x="760" y="130" width="5" height="42" fill="#ff0000"/>
<rect x="761" y="131" width="3" height="40" fill="#ff4500"/>
<rect x="770" y="123" width="1" height="62" fill="#28c828"/>
<rect x="768" y="130" width="5" height="55" fill="#28c828"/>
<rect x="769" y="131" width="3" height="53" fill="#32cd32"/>
<rect x="778" y="157" width="1" height="12" fill="#ff0000"/>
<rect x="776" y="159" width="5" height="3" fill="#ff0000"/>
<rect x="777" y="160" width="3" height="1" fill="#ff4500"/>
<rect x="786" y="129" width="1" height="85" fill="#28c828"/>
<rect x="784" y="159" width="5" height="51" fill="#28c828"/>
<rect x="785" y="160" width="3" height="49" fill="#32cd32"/>
<rect x="794" y="161" width="1" height="56" fill="#ff0000"/>
<rect x="792" y="177" width="5" height="33" fill="#ff0000"/>
<rect x="793" y="178" width="3" height="31" fill="#ff4500"/>
<rect x="802" y="165" width="1" height="67" fill="#28c828"/>
<rect x="800" y="177" width="5" height="44" fill="#28c828"/>
<rect x="801" y="178" width="3" height="42" fill="#32cd32"/>
<rect x="810" y="194" width="1" height="61" fill="#ff0000"/>
<rect x="808" y="206" width="5" height="15" fill="#ff0000"/>
<rect x="809" y="207" width="3" height="13" fill="#ff4500"/>
<rect x="818" y="138" width="1" height="70" fill="#ff0000"/>
<rect x="816" y="167" width="5" height="41" fill="#ff0000"/>
<rect x="817" y="168" width="3" height="39" fill="#ff4500"/>
<rect x="826" y="159" width="1" height="25" fill="#28c828"/>
<rect x="824" y="172" width="5" height="11" fill="#28c828"/>
<rect x="825" y="173" width="3" height="9" fill="#32cd32"/>
<rect x="834" y="122" width="1" height="77" fill="#ff0000"/>
<rect x="832" y="134" width="5" height="48" fill="#ff0000"/>
<rect x="833" y="135" width="3" height="46" fill="#ff4500"/>
<rect x="842" y="77" width="1" height="60" fill="#ff0000"/>
<rect x="840" y="83" width="5" height="52" fill="#ff0000"/>
<rect x="841" y="84" width="3" height="50" fill="#ff4500"/>
<rect x="850" y="82" width="1" height="54" fill="#28c828"/>
<rect x="848" y="83" width="5" height="53" fill="#28c828"/>
<rect x="849" y="84" width="3" height="51" fill="#32cd32"/>
<rect x="858" y="111" width="1" height="52" fill="#28c828"/>
<rect x="856" y="134" width="5" height="27" fill="#28c828"/>
<rect x="857" y="135" width="3" height="25" fill="#32cd32"/>
<rect x="866" y="138" width="1" height="57" fill="#28c828"/>
<rect x="864" y="159" width="5" height="18" fill="#28c828"/>
<rect x="865" y="160" width="3" height="16" fill="#32cd32"/>
<rect x="874" y="169" width="1" height="6" fill="#28c828"/>
<rect x="872" y="169" width="5" height="2" fill="#28c828"/>
<rect x="882" y="119" width="1" height="54" fill="#ff0000"/>
<rect x="880" y="122" width="5" height="49" fill="#ff0000"/>
<rect x="881" y="123" width="3" height="47" fill="#ff4500"/>
<rect x="890" y="94" width="1" height="63" fill="#28c828"/>
<rect x="888" y="122" width="5" height="29" fill="#28c828"/>
<rect x="889" y="123" width="3" height="27" fill="#32cd32"/>
<rect x="898" y="146" width="1" height="59" fill="#28c828"/>
<rect x="896" y="150" width="5" height="48" fill="#28c828"/>
<rect x="897" y="151" width="3" height="46" fill="#32cd32"/>
<rect x="906" y="191" width="1" height="49" fill="#28c828"/>
<rect x="904" y="197" width="5" height="32" fill="#28c828"/>
<rect x="905" y="198" width="3" height="30" fill="#32cd32"/>
<rect x="912" y="228" width="5" height="2" fill="#ff0000"/>
<rect x="1" y="158" width="6" height="6" fill="#ff0000"/>
<rect x="3" y="160" width="2" height="2" fill="#ffffff"/>
<rect x="1" y="226" width="6" height="6" fill="#00ff00"/>
<rect x="3" y="228" width="2" height="2" fill="#ffffff"/>
<rect x="1158" y="158" width="6" height="6" fill="#ff0000"/>
<rect x="1160" y="160" width="2" height="2" fill="#ffffff"/>
<rect x="1158" y="226" width="6" height="6" fill="#00ff00"/>
<rect x="1160" y="228" width="2" height="2" fill="#ffffff"/>
<rect x="2" y="413" width="2" height="11" fill="#c0c0c0"/>
<rect x="9" y="413" width="3" height="9" fill="#c0c0c0"/>
<rect x="17" y="413" width="3" height="7" fill="#c0c0c0"/>
<rect x="25" y="413" width="3" height="6" fill="#c0c0c0"/>
<rect x="33" y="413" width="3" height="4" fill="#c0c0c0"/>
<rect x="41" y="411" width="3" height="2" fill="#c0c0c0"/>
<rect x="49" y="408" width="3" height="5" fill="#c0c0c0"/>
<rect x="57" y="406" width="3" height="7" fill="#c0c0c0"/>
<rect x="65" y="406" width="3" height="7" fill="#c0c0c0"/>
<rect x="73" y="404" width="3" height="9" fill="#c0c0c0"/>
<rect x="81" y="401" width="3" height="12" fill="#c0c0c0"/>
<rect x="89" y="399" width="3" height="14" fill="#c0c0c0"/>
<rect x="97" y="397" width="3" height="16" fill="#c0c0c0"/>
<rect x="105" y="395" width="3" height="18" fill="#c0c0c0"/>
<rect x="113" y="392" width="3" height="21" fill="#c0c0c0"/>
<rect x="121" y="392" width="3" height="21" fill="#c0c0c0"/>
<rect x="129" y="392" width="3" height="21" fill="#c0c0c0"/>
<rect x="137" y="392" width="3" height="21" fill="#c0c0c0"/>
<rect x="145" y="391" width="3" height="22" fill="#c0c0c0"/>
<rect x="153" y="391" width="3" height="22" fill="#c0c0c0"/>
<rect x="161" y="387" width="3" height="26" fill="#c0c0c0"/>
<rect x="169" y="385" width="3" height="28" fill="#c0c0c0"/>
<rect x="177" y="384" width="3" height="29" fill="#c0c0c0"/>
<rect x="185" y="382" width="3" height="31" fill="#c0c0c0"/>
<rect x="193" y="381" width="3" height="32" fill="#c0c0c0"/>
<rect x="201" y="381" width="3" height="32" fill="#c0c0c0"/>
<rect x="209" y="384" width="3" height="29" fill="#c0c0c0"/>
<rect x="217" y="389" width="3" height="24" fill="#c0c0c0"/>
<rect x="225" y="393" width="3" height="20" fill="#c0c0c0"/>
<rect x="233" y="395" width="3" height="18" fill="#c0c0c0"/>
<rect x="241" y="396" width="3" height="17" fill="#c0c0c0"/>
<rect x="249" y="397" width="3" height="16" fill="#c0c0c0"/>
<rect x="257" y="396" width="3" height="17" fill="#c0c0c0"/>
<rect x="265" y="393" width="3" height="20" fill="#c0c0c0"/>
<rect x="273" y="392" width="3" height="21" fill="#c0c0c0"/>
<rect x="281" y="393" width="3" height="20" fill="#c0c0c0"/>
<rect x="289" y="392" width="3" height="21" fill="#c0c0c0"/>
<rect x="297" y="390" width="3" height="23" fill="#c0c0c0"/>
<rect x="305" y="388" width="3" height="25" fill="#c0c0c0"/>
<rect x="313" y="387" width="3" height="26" fill="#c0c0c0"/>
<rect x="321" y="388" width="3" height="25" fill="#c0c0c0"/>
<rect x="329" y="391" width="3" height="22" fill="#c0c0c0"/>
<rect x="337" y="393" width="3" height="20" fill="#c0c0c0"/>
<rect x="345" y="395" width="3" height="18" fill="#c0c0c0"/>
<rect x="353" y="398" width="3" height="15" fill="#c0c0c0"/>
<rect x="361" y="399" width="3" height="14" fill="#c0c0c0"/>
<rect x="369" y="401" width="3" height="12" fill="#c0c0c0"/>
<rect x="377" y="404" width="3" height="9" fill="#c0c0c0"/>
<rect x="385" y="410" width="3" height="3" fill="#c0c0c0"/>
<rect x="393" y="413" width="3" height="2" fill="#c0c0c0"/>
<rect x="401" y="413" width="3" height="2" fill="#c0c0c0"/>
<rect x="409" y="413" width="3" height="3" fill="#c0c0c0"/>
<rect x="417" y="413" width="3" height="3" fill="#c0c0c0"/>
<rect x="425" y="413" width="3" height="3" fill="#c0c0c0"/>
<rect x="433" y="413" width="3" height="7" fill="#c0c0c0"/>
<rect x="441" y="413" width="3" height="9" fill="#c0c0c0"/>
<rect x="449" y="413" width="3" height="10" fill="#c0c0c0"/>
<rect x="457" y="413" width="3" height="13" fill="#c0c0c0"/>
<rect x="465" y="413" width="3" height="18" fill="#c0c0c0"/>
<rect x="473" y="413" width="3" height="21" fill="#c0c0c0"/>
<rect x="481" y="413" width="3" height="22" fill="#c0c0c0"/>
<rect x="489" y="413" width="3" height="23" fill="#c0c0c0"/>
<rect x="497" y="413" width="3" height="24" fill="#c0c0c0"/>
<rect x="505" y="413" width="3" height="25" fill="#c0c0c0"/>
<rect x="513" y="413" width="3" height="25" fill="#c0c0c0"/>
<rect x="521" y="413" width="3" height="26" fill="#c0c0c0"/>
<rect x="529" y="413" width="3" height="22" fill="#c0c0c0"/>
<rect x="537" y="413" width="3" height="22" fill="#c0c0c0"/>
<rect x="545" y="413" width="3" height="18" fill="#c0c0c0"/>
<rect x="553" y="413" width="3" height="16" fill="#c0c0c0"/>
<rect x="561" y="413" width="3" height="12" fill="#c0c0c0"/>
<rect x="569" y="413" width="3" height="7" fill="#c0c0c0"/>
<rect x="577" y="413" width="3" height="1" fill="#c0c0c0"/>
<rect x="585" y="410" width="3" height="3" fill="#c0c0c0"/>
<rect x="593" y="408" width="3" height="5" fill="#c0c0c0"/>
<rect x="601" y="408" width="3" height="5" fill="#c0c0c0"/>
<rect x="609" y="408" width="3" height="5" fill="#c0c0c0"/>
<rect x="617" y="408" width="3" height="5" fill="#c0c0c0"/>
<rect x="625" y="406" width="3" height="7" fill="#c0c0c0"/>
<rect x="633" y="405" width="3" height="8" fill="#c0c0c0"/>
<rect x="641" y="406" width="3" height="7" fill="#c0c0c0"/>
<rect x="649" y="406" width="3" height="7" fill="#c0c0c0"/>
<rect x="657" y="408" width="3" height="5" fill="#c0c0c0"/>
<rect x="665" y="408" width="3" height="5" fill="#c0c0c0"/>
<rect x="673" y="407" width="3" height="6" fill="#c0c0c0"/>
<rect x="681" y="407" width="3" height="6" fill="#c0c0c0"/>
<rect x="689" y="407" width="3" height="6" fill="#c0c0c0"/>
<rect x="697" y="407" width="3" height="6" fill="#c0c0c0"/>
<rect x="705" y="407" width="3" height="6" fill="#c0c0c0"/>
<rect x="713" y="407" width="3" height="6" fill="#c0c0c0"/>
<rect x="721" y="407" width="3" height="6" fill="#c0c0c0"/>
<rect x="729" y="407" width="3" height="6" fill="#c0c0c0"/>
<rect x="737" y="405" width="3" height="8" fill="#c0c0c0"/>
<rect x="745" y="405" width="3" height="8" fill="#c0c0c0"/>
<rect x="753" y="405" width="3" height="8" fill="#c0c0c0"/>
<rect x="761" y="404" width="3" height="9" fill="#c0c0c0"/>
<rect x="769" y="405" width="3" height="8" fill="#c0c0c0"/>
<rect x="777" y="405" width="3" height="8" fill="#c0c0c0"/>
<rect x="785" y="408" width="3" height="5" fill="#c0c0c0"/>
<rect x="793" y="409" width="3" height="4" fill="#c0c0c0"/>
<rect x="801" y="411" width="3" height="2" fill="#c0c0c0"/>
<rect x="809" y="413" width="3" height="1" fill="#c0c0c0"/>
<rect x="817" y="412" width="3" height="1" fill="#c0c0c0"/>
<rect x="825" y="412" width="3" height="1" fill="#c0c0c0"/>
<rect x="833" y="410" width="3" height="3" fill="#c0c0c0"/>
<rect x="841" y="405" width="3" height="8" fill="#c0c0c0"/>
<rect x="849" y="404" width="3" height="9" fill="#c0c0c0"/>
<rect x="857" y="405" width="3" height="8" fill="#c0c0c0"/>
<rect x="865" y="407" width="3" height="6" fill="#c0c0c0"/>
<rect x="873" y="409" width="3" height="4" fill="#c0c0c0"/>
<rect x="881" y="406" width="3" height="7" fill="#c0c0c0"/>
<rect x="889" y="406" width="3" height="7" fill="#c0c0c0"/>
<rect x="897" y="409" width="3" height="4" fill="#c0c0c0"/>
<rect x="905" y="413" width="3" height="1" fill="#c0c0c0"/>
<rect x="913" y="413" width="3" height="4" fill="#c0c0c0"/>
<path d="M141 394h4v1h-4zM279 394h24v1h-24zM373 394h4v1h-4zM41 421h3v1h-3zM471 421h2v1h-2zM596 421h3v1h-3zM95 406h2v1h-2zM413 406h4v1h-4zM649 406h126v1h-126zM783 406h24v1h-24zM889 406h6v1h-6zM5 430h4v1h-4zM505 430h4v1h-4zM573 430h4v1h-4zM44 420h3v1h-3zM468 420h3v1h-3zM599 420h2v1h-2zM81 409h6v1h-6zM425 409h4v1h-4zM637 409h4v1h-4zM823 409h48v1h-48zM25 425h6v1h-6zM487 425h5v1h-5zM586 425h2v1h-2zM161 390h6v1h-6zM255 390h6v1h-6zM327 390h24v1h-24zM87 408h5v1h-5zM421 408h4v1h-4zM641 408h4v1h-4zM815 408h8v1h-8zM871 408h14v1h-14zM911 408h4v1h-4zM109 402h4v1h-4zM401 402h3v1h-3zM73 411h4v1h-4zM433 411h4v1h-4zM629 411h4v1h-4zM92 407h3v1h-3zM417 407h4v1h-4zM645 407h4v1h-4zM807 407h8v1h-8zM885 407h4v1h-4zM895 407h16v1h-16zM49 418h3v1h-3zM461 418h4v1h-4zM605 418h4v1h-4zM525 434h4v1h-4zM551 434h8v1h-8zM199 384h30v1h-30zM97 405h4v1h-4zM409 405h4v1h-4zM775 405h8v1h-8zM65 413h4v1h-4zM441 413h4v1h-4zM621 413h4v1h-4zM529 435h22v1h-22zM47 419h2v1h-2zM465 419h3v1h-3zM601 419h4v1h-4zM77 410h4v1h-4zM429 410h4v1h-4zM633 410h4v1h-4zM13 428h4v1h-4zM497 428h4v1h-4zM580 428h2v1h-2zM157 391h4v1h-4zM261 391h4v1h-4zM319 391h8v1h-8zM351 391h14v1h-14zM21 426h4v1h-4zM492 426h3v1h-3zM584 426h2v1h-2zM145 393h6v1h-6zM271 393h8v1h-8zM303 393h8v1h-8zM369 393h4v1h-4zM2 431h3v1h-3zM509 431h4v1h-4zM569 431h4v1h-4zM31 424h5v1h-5zM481 424h6v1h-6zM588 424h3v1h-3zM151 392h6v1h-6zM265 392h6v1h-6zM311 392h8v1h-8zM365 392h4v1h-4zM173 388h4v1h-4zM245 388h4v1h-4zM113 401h4v1h-4zM397 401h4v1h-4zM55 416h2v1h-2zM453 416h4v1h-4zM612 416h3v1h-3zM129 397h4v1h-4zM385 397h3v1h-3zM39 422h2v1h-2zM473 422h4v1h-4zM593 422h3v1h-3zM183 386h8v1h-8zM233 386h6v1h-6zM61 414h4v1h-4zM445 414h4v1h-4zM617 414h4v1h-4zM513 432h6v1h-6zM565 432h4v1h-4zM36 423h3v1h-3zM477 423h4v1h-4zM591 423h2v1h-2zM69 412h4v1h-4zM437 412h4v1h-4zM625 412h4v1h-4zM117 400h4v1h-4zM393 400h4v1h-4zM191 385h8v1h-8zM229 385h4v1h-4zM167 389h6v1h-6zM249 389h6v1h-6zM105 403h4v1h-4zM404 403h3v1h-3zM17 427h4v1h-4zM495 427h2v1h-2zM582 427h2v1h-2zM519 433h6v1h-6zM559 433h6v1h-6zM177 387h6v1h-6zM239 387h6v1h-6zM52 417h3v1h-3zM457 417h4v1h-4zM609 417h3v1h-3zM137 395h4v1h-4zM377 395h4v1h-4zM101 404h4v1h-4zM407 404h2v1h-2zM125 398h4v1h-4zM388 398h3v1h-3zM57 415h4v1h-4zM449 415h4v1h-4zM615 415h2v1h-2zM9 429h4v1h-4zM501 429h4v1h-4zM577 429h3v1h-3zM133 396h4v1h-4zM381 396h4v1h-4zM121 399h4v1h-4zM391 399h2v1h-2z" fill="#ff0000"/>
<path d="M3 464h3v1h-3zM9 464h3v1h-3zM15 464h3v1h-3zM21 464h3v1h-3zM27 464h3v1h-3zM33 464h3v1h-3zM39 464h3v1h-3zM45 464h3v1h-3zM51 464h3v1h-3zM57 464h3v1h-3zM63 464h3v1h-3zM69 464h3v1h-3zM75 464h3v1h-3zM81 464h3v1h-3zM87 464h3v1h-3zM93 464h3v1h-3zM99 464h3v1h-3zM105 464h3v1h-3zM111 464h3v1h-3zM117 464h3v1h-3zM123 464h3v1h-3zM129 464h3v1h-3zM135 464h3v1h-3zM141 464h3v1h-3zM147 464h3v1h-3zM153 464h3v1h-3zM159 464h3v1h-3zM165 464h3v1h-3zM171 464h3v1h-3zM177 464h3v1h-3zM183 464h3v1h-3zM189 464h3v1h-3zM195 464h3v1h-3zM201 464h3v1h-3zM207 464h3v1h-3zM213 464h3v1h-3zM219 464h3v1h-3zM225 464h3v1h-3zM231 464h3v1h-3zM237 464h3v1h-3zM243 464h3v1h-3zM249 464h3v1h-3zM255 464h3v1h-3zM261 464h3v1h-3zM267 464h3v1h-3zM273 464h3v1h-3zM279 464h3v1h-3zM285 464h3v1h-3zM291 464h3v1h-3zM297 464h3v1h-3zM303 464h3v1h-3zM309 464h3v1h-3zM315 464h3v1h-3zM321 464h3v1h-3zM327 464h3v1h-3zM333 464h3v1h-3zM339 464h3v1h-3zM345 464h3v1h-3zM351 464h3v1h-3zM357 464h3v1h-3zM363 464h3v1h-3zM369 464h3v1h-3zM375 464h3v1h-3zM381 464h3v1h-3zM387 464h3v1h-3zM393 464h3v1h-3zM399 464h3v1h-3zM405 464h3v1h-3zM411 464h3v1h-3zM417 464h3v1h-3zM423 464h3v1h-3zM429 464h3v1h-3zM435 464h3v1h-3zM441 464h3v1h-3zM447 464h3v1h-3zM453 464h3v1h-3zM459 464h3v1h-3zM465 464h3v1h-3zM471 464h3v1h-3zM477 464h3v1h-3zM483 464h3v1h-3zM489 464h3v1h-3zM495 464h3v1h-3zM501 464h3v1h-3zM507 464h3v1h-3zM513 464h3v1h-3zM519 464h3v1h-3zM525 464h3v1h-3zM531 464h3v1h-3zM537 464h3v1h-3zM543 464h3v1h-3zM549 464h3v1h-3zM555 464h3v1h-3zM561 464h3v1h-3zM567 464h3v1h-3zM573 464h3v1h-3zM579 464h3v1h-3zM585 464h3v1h-3zM591 464h3v1h-3zM597 464h3v1h-3zM603 464h3v1h-3zM609 464h3v1h-3zM615 464h3v1h-3zM621 464h3v1h-3zM627 464h3v1h-3zM633 464h3v1h-3zM639 464h3v1h-3zM645 464h3v1h-3zM651 464h3v1h-3zM657 464h3v1h-3zM663 464h3v1h-3zM669 464h3v1h-3zM675 464h3v1h-3zM681 464h3v1h-3zM687 464h3v1h-3zM693 464h3v1h-3zM699 464h3v1h-3zM705 464h3v1h-3zM711 464h3v1h-3zM717 464h3v1h-3zM723 464h3v1h-3zM729 464h3v1h-3zM735 464h3v1h-3zM741 464h3v1h-3zM747 464h3v1h-3zM753 464h3v1h-3zM759 464h3v1h-3zM765 464h3v1h-3zM771 464h3v1h-3zM777 464h3v1h-3zM783 464h3v1h-3zM789 464h3v1h-3zM795 464h3v1h-3zM801 464h3v1h-3zM807 464h3v1h-3zM813 464h3v1h-3zM819 464h3v1h-3zM825 464h3v1h-3zM831 464h3v1h-3zM837 464h3v1h-3zM843 464h3v1h-3zM849 464h3v1h-3zM855 464h3v1h-3zM861 464h3v1h-3zM867 464h3v1h-3zM873 464h3v1h-3zM879 464h3v1h-3zM885 464h3v1h-3zM891 464h3v1h-3zM897 464h3v1h-3zM903 464h3v1h-3zM909 464h3v1h-3zM915 464h3v1h-3zM921 464h3v1h-3zM927 464h3v1h-3zM933 464h3v1h-3zM939 464h3v1h-3zM945 464h3v1h-3zM951 464h3v1h-3zM957 464h3v1h-3zM963 464h3v1h-3zM969 464h3v1h-3zM975 464h3v1h-3zM981 464h3v1h-3zM987 464h3v1h-3zM993 464h3v1h-3zM999 464h3v1h-3zM1005 464h3v1h-3zM1011 464h3v1h-3zM1017 464h3v1h-3zM1023 464h3v1h-3zM1029 464h3v1h-3zM1035 464h3v1h-3zM1041 464h3v1h-3zM1047 464h3v1h-3zM1053 464h3v1h-3zM1059 464h3v1h-3zM1065 464h3v1h-3zM1071 464h3v1h-3zM1077 464h3v1h-3zM1083 464h3v1h-3zM1089 464h3v1h-3zM1095 464h3v1h-3zM1101 464h3v1h-3zM1107 464h3v1h-3zM1113 464h3v1h-3zM1119 464h3v1h-3zM1125 464h3v1h-3zM1131 464h3v1h-3zM1137 464h3v1h-3zM1143 464h3v1h-3zM1149 464h3v1h-3zM1155 464h3v1h-3zM1161 464h3v1h-3z" fill="#c0c0c0"/>
<path d="M3 489h3v1h-3zM9 489h3v1h-3zM15 489h3v1h-3zM21 489h3v1h-3zM27 489h3v1h-3zM33 489h3v1h-3zM39 489h3v1h-3zM45 489h3v1h-3zM51 489h3v1h-3zM57 489h3v1h-3zM63 489h3v1h-3zM69 489h3v1h-3zM75 489h3v1h-3zM81 489h3v1h-3zM87 489h3v1h-3zM93 489h3v1h-3zM99 489h3v1h-3zM105 489h3v1h-3zM111 489h3v1h-3zM117 489h3v1h-3zM123 489h3v1h-3zM129 489h3v1h-3zM135 489h3v1h-3zM141 489h3v1h-3zM147 489h3v1h-3zM153 489h3v1h-3zM159 489h3v1h-3zM165 489h3v1h-3zM171 489h3v1h-3zM177 489h3v1h-3zM183 489h3v1h-3zM189 489h3v1h-3zM195 489h3v1h-3zM201 489h3v1h-3zM207 489h3v1h-3zM213 489h3v1h-3zM219 489h3v1h-3zM225 489h3v1h-3zM231 489h3v1h-3zM237 489h3v1h-3zM243 489h3v1h-3zM249 489h3v1h-3zM255 489h3v1h-3zM261 489h3v1h-3zM267 489h3v1h-3zM273 489h3v1h-3zM279 489h3v1h-3zM285 489h3v1h-3zM291 489h3v1h-3zM297 489h3v1h-3zM303 489h3v1h-3zM309 489h3v1h-3zM315 489h3v1h-3zM321 489h3v1h-3zM327 489h3v1h-3zM333 489h3v1h-3zM339 489h3v1h-3zM345 489h3v1h-3zM351 489h3v1h-3zM357 489h3v1h-3zM363 489h3v1h-3zM369 489h3v1h-3zM375 489h3v1h-3zM381 489h3v1h-3zM387 489h3v1h-3zM393 489h3v1h-3zM399 489h3v1h-3zM405 489h3v1h-3zM411 489h3v1h-3zM417 489h3v1h-3zM423 489h3v1h-3zM429 489h3v1h-3zM435 489h3v1h-3zM441 489h3v1h-3zM447 489h3v1h-3zM453 489h3v1h-3zM459 489h3v1h-3zM465 489h3v1h-3zM471 489h3v1h-3zM477 489h3v1h-3zM483 489h3v1h-3zM489 489h3v1h-3zM495 489h3v1h-3zM501 489h3v1h-3zM507 489h3v1h-3zM513 489h3v1h-3zM519 489h3v1h-3zM525 489h3v1h-3zM531 489h3v1h-3zM537 489h3v1h-3zM543 489h3v1h-3zM549 489h3v1h-3zM555 489h3v1h-3zM561 489h3v1h-3zM567 489h3v1h-3zM573 489h3v1h-3zM579 489h3v1h-3zM585 489h3v1h-3zM591 489h3v1h-3zM597 489h3v1h-3zM603 489h3v1h-3zM609 489h3v1h-3zM615 489h3v1h-3zM621 489h3v1h-3zM627 489h3v1h-3zM633 489h3v1h-3zM639 489h3v1h-3zM645 489h3v1h-3zM651 489h3v1h-3zM657 489h3v1h-3zM663 489h3v1h-3zM669 489h3v1h-3zM675 489h3v1h-3zM681 489h3v1h-3zM687 489h3v1h-3zM693 489h3v1h-3zM699 489h3v1h-3zM705 489h3v1h-3zM711 489h3v1h-3zM717 489h3v1h-3zM723 489h3v1h-3zM729 489h3v1h-3zM735 489h3v1h-3zM741 489h3v1h-3zM747 489h3v1h-3zM753 489h3v1h-3zM759 489h3v1h-3zM765 489h3v1h-3zM771 489h3v1h-3zM777 489h3v1h-3zM783 489h3v1h-3zM789 489h3v1h-3zM795 489h3v1h-3zM801 489h3v1h-3zM807 489h3v1h-3zM813 489h3v1h-3zM819 489h3v1h-3zM825 489h3v1h-3zM831 489h3v1h-3zM837 489h3v1h-3zM843 489h3v1h-3zM849 489h3v1h-3zM855 489h3v1h-3zM861 489h3v1h-3zM867 489h3v1h-3zM873 489h3v1h-3zM879 489h3v1h-3zM885 489h3v1h-3zM891 489h3v1h-3zM897 489h3v1h-3zM903 489h3v1h-3zM909 489h3v1h-3zM915 489h3v1h-3zM921 489h3v1h-3zM927 489h3v1h-3zM933 489h3v1h-3zM939 489h3v1h-3zM945 489h3v1h-3zM951 489h3v1h-3zM957 489h3v1h-3zM963 489h3v1h-3zM969 489h3v1h-3zM975 489h3v1h-3zM981 489h3v1h-3zM987 489h3v1h-3zM993 489h3v1h-3zM999 489h3v1h-3zM1005 489h3v1h-3zM1011 489h3v1h-3zM1017 489h3v1h-3zM1023 489h3v1h-3zM1029 489h3v1h-3zM1035 489h3v1h-3zM1041 489h3v1h-3zM1047 489h3v1h-3zM1053 489h3v1h-3zM1059 489h3v1h-3zM1065 489h3v1h-3zM1071 489h3v1h-3zM1077 489h3v1h-3zM1083 489h3v1h-3zM1089 489h3v1h-3zM1095 489h3v1h-3zM1101 489h3v1h-3zM1107 489h3v1h-3zM1113 489h3v1h-3zM1119 489h3v1h-3zM1125 489h3v1h-3zM1131 489h3v1h-3zM1137 489h3v1h-3zM1143 489h3v1h-3zM1149 489h3v1h-3zM1155 489h3v1h-3zM1161 489h3v1h-3z" fill="#c0c0c0"/>
<path d="M15 476h8v1h-8zM27 476h2v1h-2zM228 476h3v1h-3zM353 476h4v1h-4zM367 476h2v1h-2zM418 476h5v1h-5zM546 476h5v1h-5zM556 476h3v1h-3zM645 476h4v1h-4zM655 476h5v1h-5zM705 476h6v1h-6zM772 476h2v1h-2zM781 476h2v1h-2zM794 476h2v1h-2zM816 476h2v1h-2zM857 476h6v1h-6zM876 476h2v1h-2zM892 476h3v1h-3zM5 474h4v1h-4zM233 474h6v1h-6zM335 474h14v1h-14zM361 474h3v1h-3zM561 474h3v1h-3zM597 474h4v1h-4zM620 474h2v1h-2zM663 474h2v1h-2zM679 474h22v1h-22zM717 474h4v1h-4zM753 474h2v1h-2zM776 474h2v1h-2zM828 474h3v1h-3zM852 474h3v1h-3zM880 474h2v1h-2zM885 474h4v1h-4zM9 475h6v1h-6zM29 475h2v1h-2zM231 475h2v1h-2zM349 475h4v1h-4zM357 475h4v1h-4zM364 475h3v1h-3zM559 475h2v1h-2zM601 475h19v1h-19zM639 475h2v1h-2zM649 475h6v1h-6zM660 475h3v1h-3zM701 475h4v1h-4zM711 475h6v1h-6zM774 475h2v1h-2zM818 475h10v1h-10zM855 475h2v1h-2zM878 475h2v1h-2zM889 475h3v1h-3zM458 484h2v1h-2zM480 484h2v1h-2zM487 484h8v1h-8zM523 484h2v1h-2zM44 466h3v1h-3zM92 466h3v1h-3zM121 466h6v1h-6zM139 466h2v1h-2zM154 466h13v1h-13zM265 466h6v1h-6zM303 466h8v1h-8zM460 485h3v1h-3zM478 485h2v1h-2zM495 485h8v1h-8zM511 485h12v1h-12zM37 469h2v1h-2zM55 469h5v1h-5zM73 469h4v1h-4zM257 469h3v1h-3zM278 469h2v1h-2zM287 469h2v1h-2zM318 469h2v1h-2zM573 469h4v1h-4zM581 469h4v1h-4zM840 469h2v1h-2zM843 469h2v1h-2zM382 481h2v1h-2zM432 481h2v1h-2zM445 481h4v1h-4zM452 481h2v1h-2zM528 481h2v1h-2zM535 481h4v1h-4zM905 481h10v1h-10zM23 477h4v1h-4zM218 477h10v1h-10zM369 477h4v1h-4zM402 477h2v1h-2zM416 477h2v1h-2zM423 477h4v1h-4zM544 477h2v1h-2zM551 477h5v1h-5zM642 477h3v1h-3zM770 477h2v1h-2zM792 477h2v1h-2zM796 477h3v1h-3zM814 477h2v1h-2zM863 477h13v1h-13zM895 477h2v1h-2zM47 467h2v1h-2zM81 467h11v1h-11zM127 467h12v1h-12zM208 467h2v1h-2zM263 467h2v1h-2zM271 467h5v1h-5zM295 467h8v1h-8zM311 467h5v1h-5zM2 473h3v1h-3zM32 473h2v1h-2zM239 473h8v1h-8zM329 473h6v1h-6zM564 473h2v1h-2zM593 473h4v1h-4zM622 473h2v1h-2zM665 473h14v1h-14zM721 473h6v1h-6zM751 473h2v1h-2zM755 473h2v1h-2zM831 473h2v1h-2zM850 473h2v1h-2zM882 473h3v1h-3zM63 471h2v1h-2zM68 471h3v1h-3zM252 471h3v1h-3zM282 471h2v1h-2zM322 471h3v1h-3zM568 471h2v1h-2zM588 471h3v1h-3zM626 471h9v1h-9zM743 471h5v1h-5zM836 471h2v1h-2zM65 472h3v1h-3zM247 472h5v1h-5zM325 472h4v1h-4zM566 472h2v1h-2zM591 472h2v1h-2zM624 472h2v1h-2zM635 472h2v1h-2zM727 472h16v1h-16zM748 472h3v1h-3zM757 472h2v1h-2zM833 472h3v1h-3zM848 472h2v1h-2zM386 483h9v1h-9zM456 483h2v1h-2zM482 483h5v1h-5zM525 483h2v1h-2zM42 465h2v1h-2zM95 465h2v1h-2zM103 465h6v1h-6zM119 465h2v1h-2zM152 465h2v1h-2zM167 465h6v1h-6zM205 465h2v1h-2zM113 463h3v1h-3zM143 463h2v1h-2zM149 463h2v1h-2zM177 463h14v1h-14zM199 463h4v1h-4zM463 486h2v1h-2zM476 486h2v1h-2zM503 486h8v1h-8zM377 479h3v1h-3zM399 479h2v1h-2zM407 479h2v1h-2zM412 479h2v1h-2zM429 479h2v1h-2zM541 479h2v1h-2zM788 479h2v1h-2zM801 479h11v1h-11zM900 479h3v1h-3zM465 487h11v1h-11zM49 468h6v1h-6zM77 468h4v1h-4zM260 468h3v1h-3zM276 468h2v1h-2zM289 468h6v1h-6zM316 468h2v1h-2zM577 468h4v1h-4zM380 480h2v1h-2zM409 480h3v1h-3zM449 480h3v1h-3zM530 480h5v1h-5zM539 480h2v1h-2zM786 480h2v1h-2zM903 480h2v1h-2zM97 464h6v1h-6zM109 464h4v1h-4zM116 464h3v1h-3zM173 464h4v1h-4zM203 464h2v1h-2zM384 482h2v1h-2zM395 482h2v1h-2zM434 482h11v1h-11zM454 482h2v1h-2zM60 470h3v1h-3zM71 470h2v1h-2zM255 470h2v1h-2zM280 470h2v1h-2zM284 470h3v1h-3zM320 470h2v1h-2zM570 470h3v1h-3zM585 470h3v1h-3zM760 470h2v1h-2zM838 470h2v1h-2zM845 470h2v1h-2zM147 462h2v1h-2zM191 462h8v1h-8zM373 478h4v1h-4zM404 478h3v1h-3zM414 478h2v1h-2zM427 478h2v1h-2zM790 478h2v1h-2zM799 478h2v1h-2zM812 478h2v1h-2zM897 478h3v1h-3zM763 470h1v1h-1zM151 464h1v1h-1zM785 479h1v1h-1zM778 473h1v1h-1zM211 469h1v1h-1zM768 475h1v1h-1zM141 465h1v1h-1zM527 482h1v1h-1zM142 464h1v1h-1zM217 476h1v1h-1zM31 474h1v1h-1zM637 473h1v1h-1zM36 470h1v1h-1zM212 470h1v1h-1zM214 472h1v2h-1zM41 466h1v1h-1zM543 478h1v1h-1zM764 471h1v1h-1zM765 472h1v1h-1zM146 461h1v1h-1zM779 474h1v1h-1zM145 462h1v1h-1zM35 471h1v1h-1zM769 476h1v1h-1zM638 474h1v1h-1zM759 471h1v1h-1zM39 468h1v1h-1zM641 476h1v1h-1zM40 467h1v1h-1zM398 480h1v1h-1zM431 480h1v1h-1zM847 471h1v1h-1zM766 473h1v1h-1zM34 472h1v1h-1zM780 475h1v1h-1zM783 477h1v1h-1zM213 471h1v1h-1zM215 474h1v1h-1zM842 468h1v1h-1zM762 469h1v1h-1zM397 481h1v1h-1zM401 478h1v1h-1zM767 474h1v1h-1zM216 475h1v1h-1zM207 466h1v1h-1zM784 478h1v1h-1zM210 468h1v1h-1z" fill="#1e90ff"/>
<rect x="428" y="524" width="106" height="26" fill="#fff"/>
<rect x="0" y="530" width="1206" height="1" fill="#e6e6e6"/>
<path d="M0 532.5 H427.5 V550.5 H534.5 V532.5 H1206" fill="none" stroke="#000" stroke-width="1"/>
<rect x="0" y="552" width="1206" height="1" fill="#fff"/>
<rect x="0" y="553" width="1206" height="3" fill="#f0f0f0"/>
<rect x="0" y="556" width="1206" height="1" fill="#a0a0a0"/>
<rect x="0" y="557" width="1206" height="1" fill="#e8e8e8"/>
<rect x="103" y="535" width="1" height="14" fill="#808080"/><rect x="211" y="535" width="1" height="14" fill="#808080"/><rect x="319" y="535" width="1" height="14" fill="#808080"/><rect x="647" y="535" width="1" height="14" fill="#808080"/><rect x="747" y="535" width="1" height="14" fill="#808080"/><rect x="835" y="535" width="1" height="14" fill="#808080"/><rect x="923" y="535" width="1" height="14" fill="#808080"/><rect x="1007" y="535" width="1" height="14" fill="#808080"/><rect x="1087" y="535" width="1" height="14" fill="#808080"/>
<path d="M1179.8 541 L1183.5 538 L1183.5 544 Z M1202.2 541 L1198.5 538 L1198.5 544 Z" fill="#909090" shape-rendering="auto"/>
</svg>
<div class="t" style="left:1169.91px;top:38px;font-size:9px;line-height:11px;color:#000;transform:scale(1.0097,1.1);text-shadow:0 0 0 rgba(0,0,0,.4);">1.29620</div><div class="t" style="left:1169.91px;top:71px;font-size:9px;line-height:11px;color:#000;transform:scale(1.0105,1.1);text-shadow:0 0 0 rgba(0,0,0,.4);">1.29035</div><div class="t" style="left:1169.91px;top:104px;font-size:9px;line-height:11px;color:#000;transform:scale(1.0097,1.1);text-shadow:0 0 0 rgba(0,0,0,.4);">1.28450</div><div class="t" style="left:1169.91px;top:137px;font-size:9px;line-height:11px;color:#000;transform:scale(1.0105,1.1);text-shadow:0 0 0 rgba(0,0,0,.4);">1.27865</div><div class="t" style="left:1169.91px;top:170px;font-size:9px;line-height:11px;color:#000;transform:scale(1.0097,1.1);text-shadow:0 0 0 rgba(0,0,0,.4);">1.27280</div><div class="t" style="left:1169.91px;top:203px;font-size:9px;line-height:11px;color:#000;transform:scale(1.0105,1.1);text-shadow:0 0 0 rgba(0,0,0,.4);">1.26695</div><div class="t" style="left:1169.91px;top:236px;font-size:9px;line-height:11px;color:#000;transform:scale(1.0105,1.1);text-shadow:0 0 0 rgba(0,0,0,.4);">1.26095</div><div class="t" style="left:1169.91px;top:269px;font-size:9px;line-height:11px;color:#000;transform:scale(1.0097,1.1);text-shadow:0 0 0 rgba(0,0,0,.4);">1.25510</div><div class="t" style="left:1169.91px;top:302px;font-size:9px;line-height:11px;color:#000;transform:scale(1.0105,1.1);text-shadow:0 0 0 rgba(0,0,0,.4);">1.24925</div><div class="t" style="left:1169.91px;top:335px;font-size:9px;line-height:11px;color:#000;transform:scale(1.0097,1.1);text-shadow:0 0 0 rgba(0,0,0,.4);">1.24340</div><div class="t" style="left:1169.91px;top:368px;font-size:9px;line-height:11px;color:#000;transform:scale(1.0105,1.1);text-shadow:0 0 0 rgba(0,0,0,.4);">1.23755</div><div class="t" style="left:1167.94px;top:380px;font-size:9px;line-height:11px;color:#000;transform:scale(1.0355,1.1);text-shadow:0 0 0 rgba(0,0,0,.4);">0.009278</div><div class="t" style="left:1167.94px;top:409px;font-size:9px;line-height:11px;color:#000;transform:scale(1.0289,1.1);text-shadow:0 0 0 rgba(0,0,0,.4);">0.00</div><div class="t" style="left:1168.19px;top:430px;font-size:9px;line-height:11px;color:#000;transform:scale(1.0258,1.1);text-shadow:0 0 0 rgba(0,0,0,.4);">-0.007504</div><div class="t" style="left:1167.71px;top:446px;font-size:9px;line-height:11px;color:#000;transform:scale(1.0000,1.1);text-shadow:0 0 0 rgba(0,0,0,.4);">100</div><div class="t" style="left:1167.94px;top:460px;font-size:9px;line-height:11px;color:#000;transform:scale(1.0000,1.1);text-shadow:0 0 0 rgba(0,0,0,.4);">70</div><div class="t" style="left:1168.06px;top:485px;font-size:9px;line-height:11px;color:#000;transform:scale(1.0000,1.1);text-shadow:0 0 0 rgba(0,0,0,.4);">30</div><div class="t" style="left:1168.05px;top:498px;font-size:9px;line-height:11px;color:#000;transform:scale(1.0000,1.1);text-shadow:0 0 0 rgba(0,0,0,.4);">0</div><div class="t" style="left:1.62px;top:514px;font-size:9px;line-height:11px;color:#000;transform:scale(1.0457,1.1);text-shadow:0 0 0 rgba(0,0,0,.4);">5 Nov 2021</div><div class="t" style="left:64.68px;top:514px;font-size:9px;line-height:11px;color:#000;transform:scale(1.0538,1.1);text-shadow:0 0 0 rgba(0,0,0,.4);">15 Nov 2021</div><div class="t" style="left:128.92px;top:514px;font-size:9px;line-height:11px;color:#000;transform:scale(1.0529,1.1);text-shadow:0 0 0 rgba(0,0,0,.4);">24 Nov 2021</div><div class="t" style="left:193.05px;top:514px;font-size:9px;line-height:11px;color:#000;transform:scale(1.0276,1.1);text-shadow:0 0 0 rgba(0,0,0,.4);">3 Dec 2021</div><div class="t" style="left:256.69px;top:514px;font-size:9px;line-height:11px;color:#000;transform:scale(1.0418,1.1);text-shadow:0 0 0 rgba(0,0,0,.4);">13 Dec 2021</div><div class="t" style="left:320.93px;top:514px;font-size:9px;line-height:11px;color:#000;transform:scale(1.0370,1.1);text-shadow:0 0 0 rgba(0,0,0,.4);">22 Dec 2021</div><div class="t" style="left:385.05px;top:514px;font-size:9px;line-height:11px;color:#000;transform:scale(1.0347,1.1);text-shadow:0 0 0 rgba(0,0,0,.4);">31 Dec 2021</div><div class="t" style="left:448.69px;top:514px;font-size:9px;line-height:11px;color:#000;transform:scale(1.0329,1.1);text-shadow:0 0 0 rgba(0,0,0,.4);">10 Jan 2022</div><div class="t" style="left:512.69px;top:514px;font-size:9px;line-height:11px;color:#000;transform:scale(1.0329,1.1);text-shadow:0 0 0 rgba(0,0,0,.4);">19 Jan 2022</div><div class="t" style="left:576.93px;top:514px;font-size:9px;line-height:11px;color:#000;transform:scale(1.0280,1.1);text-shadow:0 0 0 rgba(0,0,0,.4);">28 Jan 2022</div><div class="t" style="left:640.92px;top:514px;font-size:9px;line-height:11px;color:#000;transform:scale(1.0421,1.1);text-shadow:0 0 0 rgba(0,0,0,.4);">7 Feb 2022</div><div class="t" style="left:704.68px;top:514px;font-size:9px;line-height:11px;color:#000;transform:scale(1.0526,1.1);text-shadow:0 0 0 rgba(0,0,0,.4);">16 Feb 2022</div><div class="t" style="left:768.93px;top:514px;font-size:9px;line-height:11px;color:#000;transform:scale(1.0476,1.1);text-shadow:0 0 0 rgba(0,0,0,.4);">25 Feb 2022</div><div class="t" style="left:832.92px;top:514px;font-size:9px;line-height:11px;color:#000;transform:scale(1.0423,1.1);text-shadow:0 0 0 rgba(0,0,0,.4);">7 Mar 2022</div><div class="t" style="left:896.68px;top:514px;font-size:9px;line-height:11px;color:#000;transform:scale(1.0527,1.1);text-shadow:0 0 0 rgba(0,0,0,.4);">16 Mar 2022</div><div class="t" style="left:16.64px;top:28px;font-size:9px;line-height:11px;color:#000;transform:scale(1.0893,1.1);text-shadow:0 0 0 rgba(0,0,0,.4);">USDCAD-,Daily</div><div class="t" style="left:92.20px;top:28px;font-size:9px;line-height:11px;color:#000;transform:scale(1.0235,1.1);text-shadow:0 0 0 rgba(0,0,0,.4);">1.26305 1.26324 1.26305 1.26322</div><div class="t" style="left:5.63px;top:382px;font-size:9px;line-height:11px;color:#000;transform:scale(1.0395,1.1);text-shadow:0 0 0 rgba(0,0,0,.4);">MACD(12,26,9) -0.000763 0.001284</div><div class="t" style="left:5.64px;top:448px;font-size:9px;line-height:11px;color:#000;transform:scale(1.0350,1.1);text-shadow:0 0 0 rgba(0,0,0,.4);">RSI(14) 42.7215</div><div class="t" style="left:-3.64px;top:4px;font-size:9px;line-height:11px;color:#2a2a2a;transform:scale(0.6482,1.1);">15</div><div class="t" style="left:13.03px;top:4px;font-size:9px;line-height:11px;color:#2a2a2a;transform:scale(1.0476,1.1);">M30</div><div class="t" style="left:44.00px;top:4px;font-size:9px;line-height:11px;color:#2a2a2a;transform:scale(1.0845,1.1);">H1</div><div class="t" style="left:70.94px;top:4px;font-size:9px;line-height:11px;color:#2a2a2a;transform:scale(1.1616,1.1);">H4</div><div class="t" style="left:99.77px;top:4px;font-size:9px;line-height:11px;color:#2a2a2a;transform:scale(1.1233,1.1);">D1</div><div class="t" style="left:127.86px;top:4px;font-size:9px;line-height:11px;color:#2a2a2a;transform:scale(1.0829,1.1);">W1</div><div class="t" style="left:153.73px;top:4px;font-size:9px;line-height:11px;color:#2a2a2a;transform:scale(1.1817,1.1);">MN</div><div class="t" style="left:13.24px;top:536px;font-size:12px;line-height:14px;color:#6e6e6e;transform:scale(1.0378,1.05);">USDX,Weekly</div><div class="t" style="left:113.60px;top:536px;font-size:12px;line-height:14px;color:#6e6e6e;transform:scale(1.0112,1.05);">EURUSD-,Daily</div><div class="t" style="left:220.98px;top:536px;font-size:12px;line-height:14px;color:#6e6e6e;transform:scale(1.0304,1.05);">AUDUSD-,Daily</div><div class="t" style="left:330.36px;top:536px;font-size:12px;line-height:14px;color:#6e6e6e;transform:scale(1.0102,1.05);">USDCHF-,Daily</div><div class="t" style="left:437.56px;top:536px;font-size:12px;line-height:14px;color:#000;transform:scale(1.0188,1.05);">USDCAD-,Daily</div><div class="t" style="left:546.34px;top:536px;font-size:12px;line-height:14px;color:#6e6e6e;transform:scale(1.0381,1.05);">USDCNH-,Daily</div><div class="t" style="left:657.72px;top:536px;font-size:12px;line-height:14px;color:#6e6e6e;transform:scale(1.0473,1.05);">XAUUSD-,M5</div><div class="t" style="left:756.28px;top:536px;font-size:12px;line-height:14px;color:#6e6e6e;transform:scale(1.0987,1.05);">UKOil-,M30</div><div class="t" style="left:846.27px;top:536px;font-size:12px;line-height:14px;color:#6e6e6e;transform:scale(1.0425,1.05);">DJ30-,Daily</div><div class="t" style="left:933.33px;top:536px;font-size:12px;line-height:14px;color:#6e6e6e;transform:scale(1.0510,1.05);">UK100-,H1</div><div class="t" style="left:1018.43px;top:536px;font-size:12px;line-height:14px;color:#6e6e6e;transform:scale(1.0496,1.05);">USOil-,H1</div><div class="t" style="left:1096.56px;top:536px;font-size:12px;line-height:14px;color:#6e6e6e;transform:scale(1.0522,1.05);">HK50-,Daily</div>
<div class="lb" style="top:80px;background:#ff0000"></div><div class="t" style="left:1169.91px;top:81px;font-size:9px;line-height:11px;color:#fff;transform:scale(1.0125,1.1);text-shadow:0 0 0 rgba(255,255,255,.4);">1.28851</div><div class="lb" style="top:155px;background:#ff0000"></div><div class="t" style="left:1169.91px;top:156px;font-size:9px;line-height:11px;color:#fff;transform:scale(1.0105,1.1);text-shadow:0 0 0 rgba(255,255,255,.4);">1.27515</div><div class="lb" style="top:223px;background:#00ff00"></div><div class="t" style="left:1169.91px;top:224px;font-size:9px;line-height:11px;color:#fff;transform:scale(1.0111,1.1);text-shadow:0 0 0 rgba(255,255,255,.4);">1.26306</div><div class="lb" style="top:296px;background:#0000ff"></div><div class="t" style="left:1169.91px;top:297px;font-size:9px;line-height:11px;color:#fff;transform:scale(1.0105,1.1);text-shadow:0 0 0 rgba(255,255,255,.4);">1.24995</div><div class="lb" style="top:363px;background:#0000ff"></div><div class="t" style="left:1169.91px;top:364px;font-size:9px;line-height:11px;color:#fff;transform:scale(1.0097,1.1);text-shadow:0 0 0 rgba(255,255,255,.4);">1.23810</div>
</div></body></html>
